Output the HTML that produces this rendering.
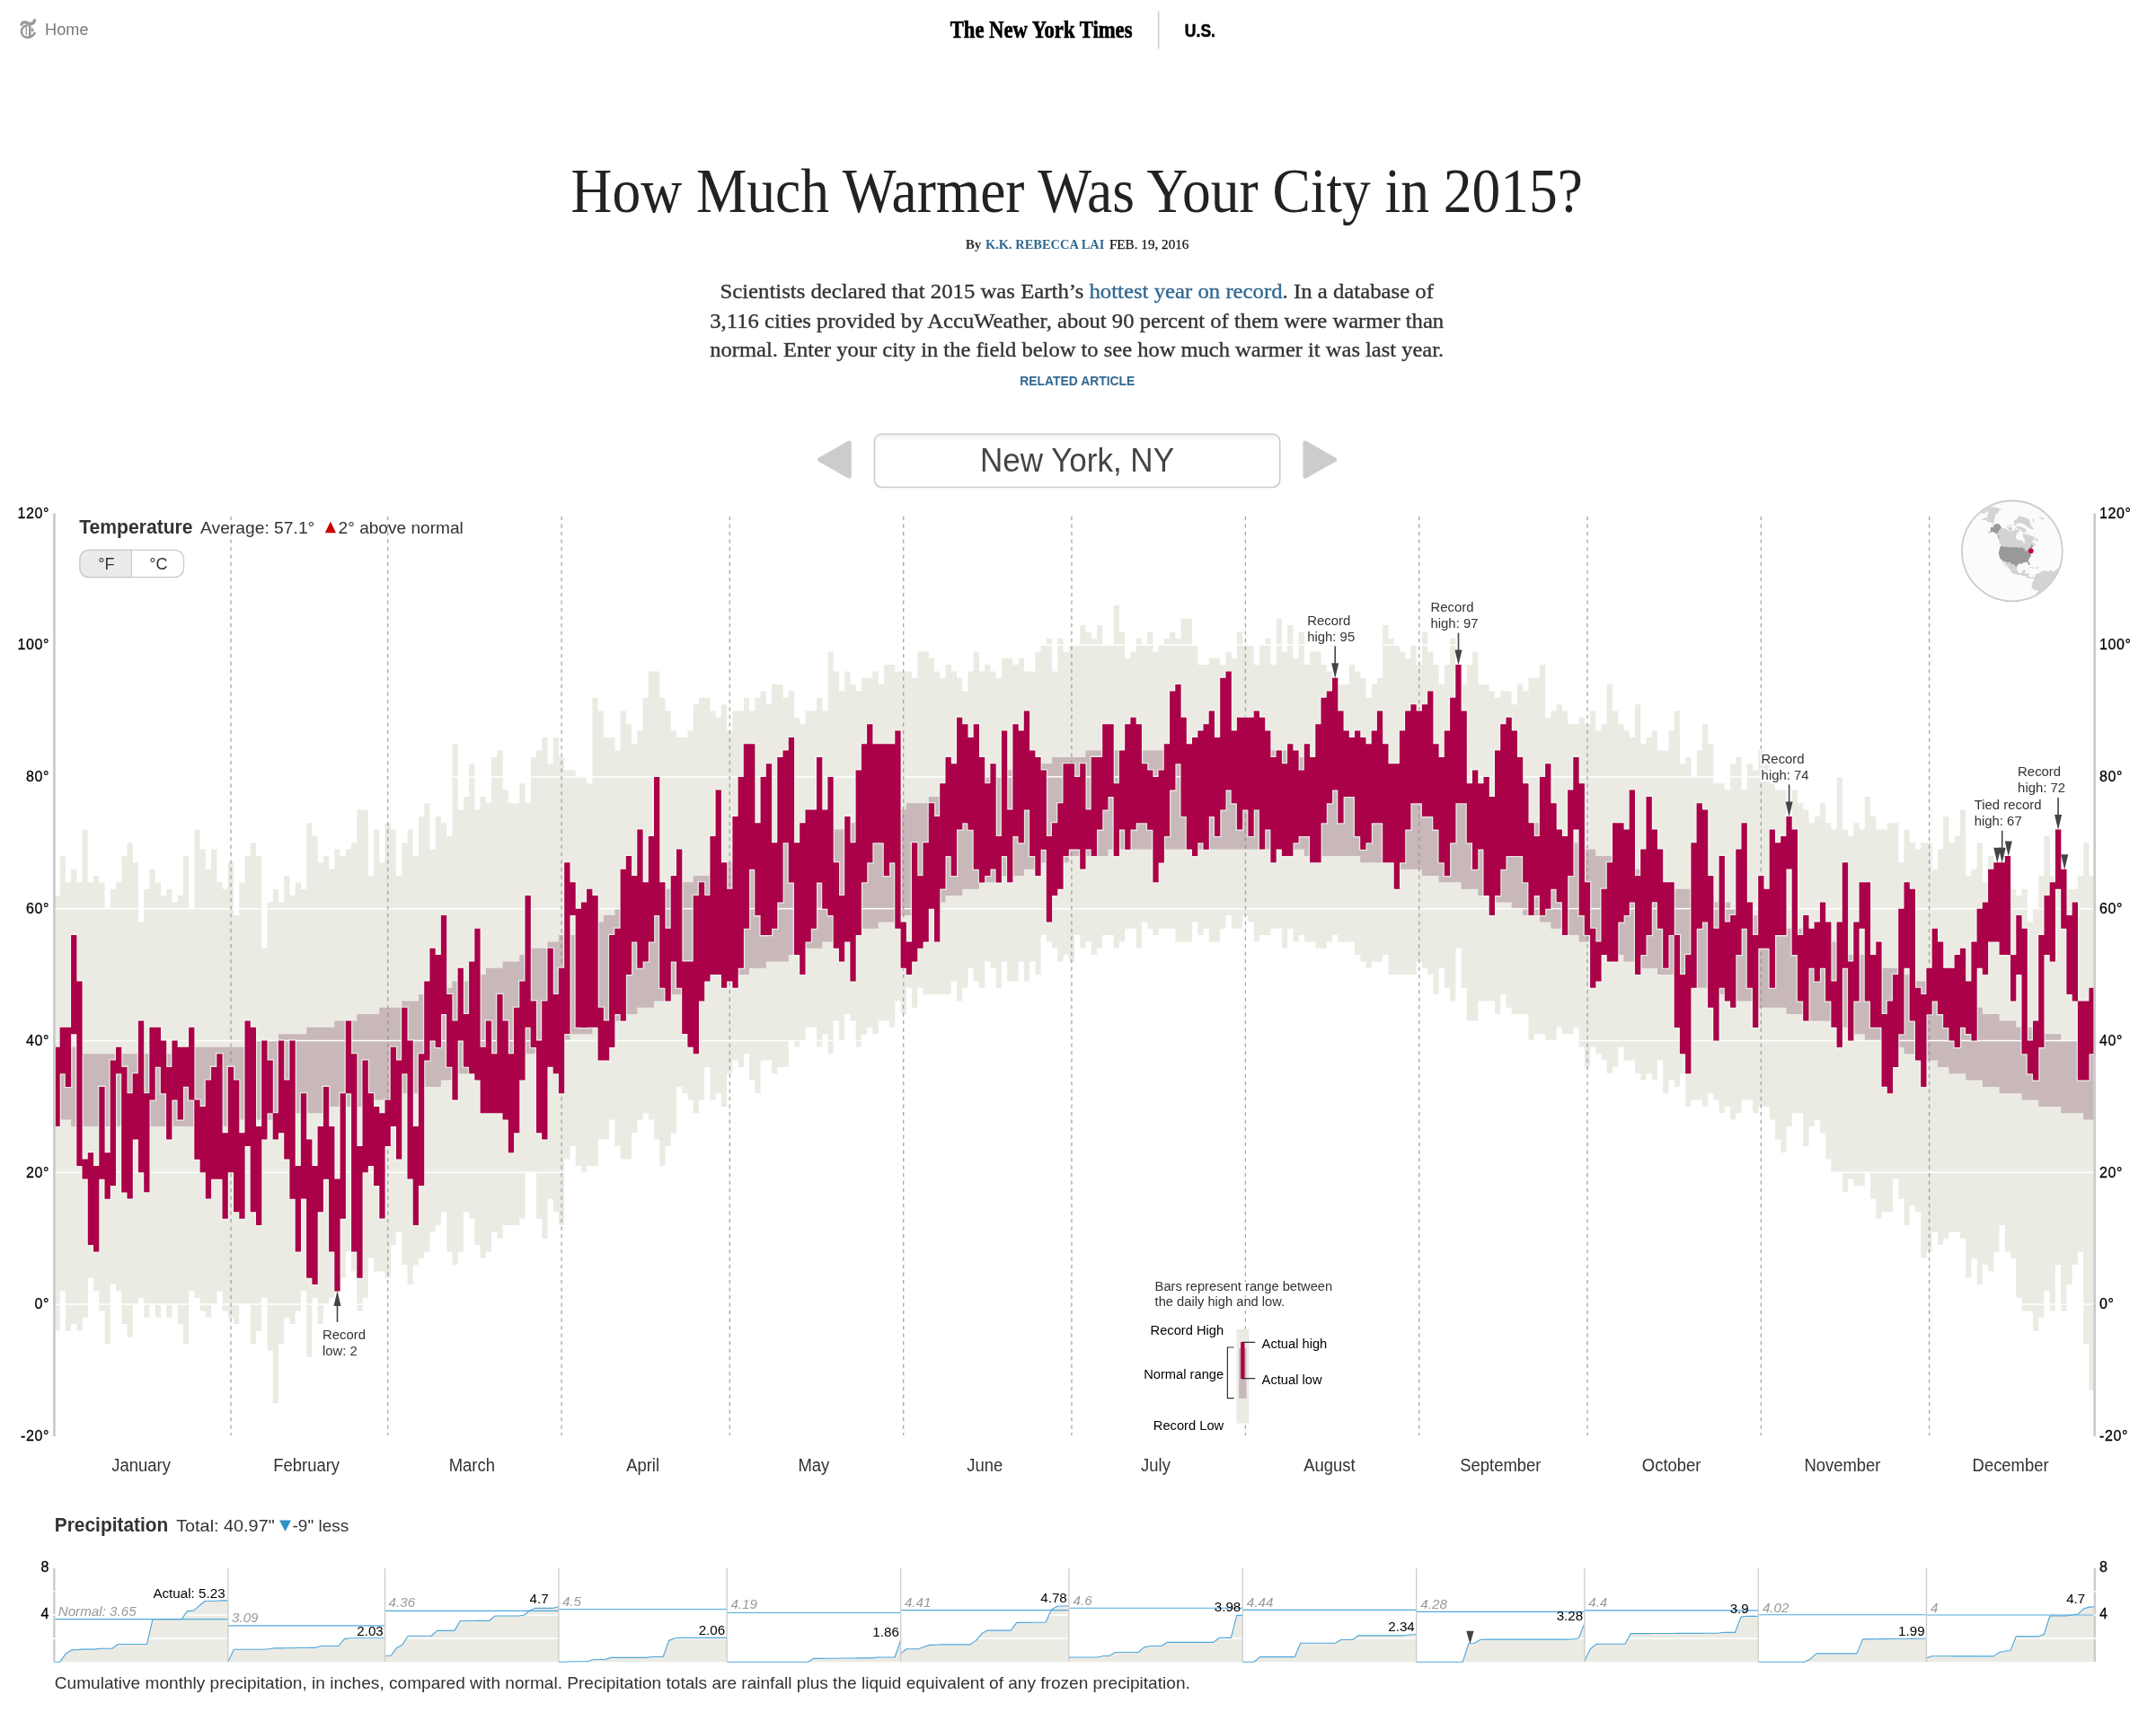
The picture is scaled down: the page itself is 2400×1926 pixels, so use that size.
<!DOCTYPE html>
<html><head><meta charset="utf-8"><title>How Much Warmer Was Your City in 2015?</title>
<style>
html,body{margin:0;padding:0;background:#fff;}
body{width:2400px;height:1926px;overflow:hidden;font-family:"Liberation Sans",sans-serif;}
svg{display:block;position:absolute;left:0;top:0;opacity:0.9999;will-change:opacity;}
text{font-family:"Liberation Sans",sans-serif;}
.se{font-family:"Liberation Serif",serif;}
.yl{font-size:16px;fill:#000;letter-spacing:0.6px;stroke:#000;stroke-width:0.3px;}
.lg2{fill:#333 !important;}
.mo{font-size:19.5px;fill:#333;}
.an{font-size:14.9px;fill:#333;stroke:#fff;stroke-width:4.5px;stroke-linejoin:round;paint-order:stroke;stroke-opacity:0.92;}
.lg{font-size:14.7px;fill:#000;stroke:#fff;stroke-width:4px;stroke-linejoin:round;paint-order:stroke;stroke-opacity:0.9;}
.pn{font-size:15.2px;fill:#999;font-style:italic;}
.pa{font-size:15.2px;fill:#000;}
</style></head><body>
<svg width="2400" height="1926" viewBox="0 0 2400 1926">
<!-- header -->
<g fill="none" stroke="#999" stroke-linecap="round">
<path d="M23.8 27.2C26 22.5 29.5 25.5 33 26.2C36 26.8 38 25.5 38.6 22.6" stroke-width="3.2"/>
<path d="M30.5 28.3C25.5 29 23.6 32.5 24 36C24.5 40 28 42 31.5 41.6C35 41.2 37.5 39.5 38.6 36.8" stroke-width="2.6"/>
<path d="M33.3 27V40.5" stroke-width="2.6"/>
<path d="M29.3 30.5V38.5" stroke-width="1.4"/>
<path d="M36.2 31.6L37.4 33.4L36.2 35.2L35 33.4Z" stroke-width="1" fill="#999"/>
</g>
<text x="50.1" y="39" font-size="18.3" fill="#777" textLength="48.4" lengthAdjust="spacingAndGlyphs">Home</text>
<text x="1057.7" y="42" class="se" font-size="28" font-weight="bold" fill="#000" stroke="#000" stroke-width="0.7" textLength="202.8" lengthAdjust="spacingAndGlyphs">The New York Times</text>
<rect x="1288.9" y="12.6" width="1.5" height="41.8" fill="#ccc"/>
<text x="1318.8" y="41" font-size="19.6" font-weight="bold" fill="#000" stroke="#000" stroke-width="0.5" textLength="34.2" lengthAdjust="spacingAndGlyphs">U.S.</text>
<text x="635.6" y="236" class="se" font-size="70.5" fill="#222" textLength="1126.4" lengthAdjust="spacingAndGlyphs">How Much Warmer Was Your City in 2015?</text>
<text x="1074.7" y="277" class="se" font-size="15.6" font-weight="bold" fill="#333" textLength="17.8" lengthAdjust="spacingAndGlyphs">By</text>
<text x="1096.9" y="277" class="se" font-size="15.6" font-weight="bold" fill="#326891" textLength="132.5" lengthAdjust="spacingAndGlyphs">K.K. REBECCA LAI</text>
<text x="1234.9" y="277" class="se" font-size="15.6" fill="#111" stroke="#111" stroke-width="0.25" textLength="88.5" lengthAdjust="spacingAndGlyphs">FEB. 19, 2016</text>
<text x="801.4" y="332.2" class="se" font-size="24" fill="#333" stroke="#333" stroke-width="0.35" textLength="794.6" lengthAdjust="spacingAndGlyphs">Scientists declared that 2015 was Earth’s <tspan fill="#326891" stroke="#326891">hottest year on record</tspan>. In a database of</text>
<text x="790.3" y="364.5" class="se" font-size="24" fill="#333" stroke="#333" stroke-width="0.35" textLength="816.9" lengthAdjust="spacingAndGlyphs">3,116 cities provided by AccuWeather, about 90 percent of them were warmer than</text>
<text x="790.3" y="396.8" class="se" font-size="24" fill="#333" stroke="#333" stroke-width="0.35" textLength="816.9" lengthAdjust="spacingAndGlyphs">normal. Enter your city in the field below to see how much warmer it was last year.</text>
<text x="1135.3" y="428.5" font-size="14.5" font-weight="bold" fill="#326891" textLength="128" lengthAdjust="spacingAndGlyphs">RELATED ARTICLE</text>
<!-- city input -->
<defs><linearGradient id="ig" x1="0" y1="0" x2="0" y2="1"><stop offset="0" stop-color="#eee"/><stop offset="0.12" stop-color="#fff"/><stop offset="1" stop-color="#fff"/></linearGradient></defs>
<rect x="973.5" y="483.2" width="451.2" height="59.3" rx="8" ry="8" fill="url(#ig)" stroke="#ccc" stroke-width="1.6"/>
<text x="1091" y="524.7" font-size="36" fill="#444" textLength="216" lengthAdjust="spacingAndGlyphs">New York, NY</text>
<path d="M945.5 492.8V530.6L912.3 511.7Z" fill="#ccc" stroke="#ccc" stroke-width="4.5" stroke-linejoin="round"/>
<path d="M1452.7 492.8V530.6L1485.9 511.7Z" fill="#ccc" stroke="#ccc" stroke-width="4.5" stroke-linejoin="round"/>
<path d="M60.4 997 L66.6 997 L66.6 953 L72.9 953 L72.9 982.3 L79.1 982.3 L79.1 967.7 L85.4 967.7 L85.4 982.3 L91.6 982.3 L91.6 923.6 L97.8 923.6 L97.8 982.3 L104.1 982.3 L104.1 975 L110.3 975 L110.3 982.3 L116.6 982.3 L116.6 1011.7 L122.8 1011.7 L122.8 989.7 L129 989.7 L129 982.3 L135.3 982.3 L135.3 953 L141.5 953 L141.5 938.3 L147.8 938.3 L147.8 960.3 L154 960.3 L154 1026.4 L160.2 1026.4 L160.2 989.7 L166.5 989.7 L166.5 967.7 L172.7 967.7 L172.7 982.3 L179 982.3 L179 997 L185.2 997 L185.2 989.7 L191.4 989.7 L191.4 1004.4 L197.7 1004.4 L197.7 997 L203.9 997 L203.9 953 L210.2 953 L210.2 1011.7 L216.4 1011.7 L216.4 923.6 L222.6 923.6 L222.6 945.6 L228.9 945.6 L228.9 967.7 L235.1 967.7 L235.1 945.6 L241.4 945.6 L241.4 982.3 L247.6 982.3 L247.6 989.7 L253.8 989.7 L253.8 960.3 L260.1 960.3 L260.1 1019 L266.3 1019 L266.3 982.3 L272.6 982.3 L272.6 953 L278.8 953 L278.8 938.3 L285 938.3 L285 953 L291.3 953 L291.3 1055.7 L297.5 1055.7 L297.5 1004.4 L303.8 1004.4 L303.8 989.7 L310 989.7 L310 1004.4 L316.2 1004.4 L316.2 975 L322.5 975 L322.5 997 L328.7 997 L328.7 982.3 L335 982.3 L335 989.7 L341.2 989.7 L341.2 916.3 L347.4 916.3 L347.4 931 L353.7 931 L353.7 960.3 L359.9 960.3 L359.9 953 L366.2 953 L366.2 967.7 L372.4 967.7 L372.4 945.6 L378.6 945.6 L378.6 953 L384.9 953 L384.9 945.6 L391.1 945.6 L391.1 938.3 L397.3 938.3 L397.3 901.6 L403.6 901.6 L403.6 901.6 L409.8 901.6 L409.8 975 L416.1 975 L416.1 923.6 L422.3 923.6 L422.3 960.3 L428.5 960.3 L428.5 916.3 L434.8 916.3 L434.8 923.6 L441 923.6 L441 975 L447.3 975 L447.3 938.3 L453.5 938.3 L453.5 923.6 L459.7 923.6 L459.7 953 L466 953 L466 908.9 L472.2 908.9 L472.2 894.3 L478.5 894.3 L478.5 945.6 L484.7 945.6 L484.7 908.9 L490.9 908.9 L490.9 916.3 L497.2 916.3 L497.2 931 L503.4 931 L503.4 828.2 L509.7 828.2 L509.7 901.6 L515.9 901.6 L515.9 886.9 L522.1 886.9 L522.1 850.2 L528.4 850.2 L528.4 901.6 L534.6 901.6 L534.6 886.9 L540.9 886.9 L540.9 894.3 L547.1 894.3 L547.1 842.9 L553.3 842.9 L553.3 835.5 L559.6 835.5 L559.6 879.6 L565.8 879.6 L565.8 894.3 L572.1 894.3 L572.1 894.3 L578.3 894.3 L578.3 872.2 L584.5 872.2 L584.5 894.3 L590.8 894.3 L590.8 842.9 L597 842.9 L597 835.5 L603.3 835.5 L603.3 820.9 L609.5 820.9 L609.5 850.2 L615.7 850.2 L615.7 820.9 L622 820.9 L622 842.9 L628.2 842.9 L628.2 857.6 L634.5 857.6 L634.5 857.6 L640.7 857.6 L640.7 864.9 L646.9 864.9 L646.9 864.9 L653.2 864.9 L653.2 872.2 L659.4 872.2 L659.4 776.8 L665.7 776.8 L665.7 791.5 L671.9 791.5 L671.9 820.9 L678.1 820.9 L678.1 820.9 L684.4 820.9 L684.4 835.5 L690.6 835.5 L690.6 791.5 L696.9 791.5 L696.9 806.2 L703.1 806.2 L703.1 828.2 L709.3 828.2 L709.3 813.5 L715.6 813.5 L715.6 776.8 L721.8 776.8 L721.8 747.5 L728.1 747.5 L728.1 747.5 L734.3 747.5 L734.3 776.8 L740.5 776.8 L740.5 791.5 L746.8 791.5 L746.8 813.5 L753 813.5 L753 820.9 L759.3 820.9 L759.3 820.9 L765.5 820.9 L765.5 813.5 L771.7 813.5 L771.7 784.2 L778 784.2 L778 776.8 L784.2 776.8 L784.2 776.8 L790.5 776.8 L790.5 791.5 L796.7 791.5 L796.7 798.8 L802.9 798.8 L802.9 784.2 L809.2 784.2 L809.2 813.5 L815.4 813.5 L815.4 791.5 L821.7 791.5 L821.7 791.5 L827.9 791.5 L827.9 776.8 L834.1 776.8 L834.1 791.5 L840.4 791.5 L840.4 776.8 L846.6 776.8 L846.6 769.5 L852.9 769.5 L852.9 784.2 L859.1 784.2 L859.1 762.1 L865.3 762.1 L865.3 762.1 L871.6 762.1 L871.6 776.8 L877.8 776.8 L877.8 769.5 L884.1 769.5 L884.1 798.8 L890.3 798.8 L890.3 806.2 L896.5 806.2 L896.5 791.5 L902.8 791.5 L902.8 791.5 L909 791.5 L909 776.8 L915.3 776.8 L915.3 791.5 L921.5 791.5 L921.5 725.4 L927.7 725.4 L927.7 747.5 L934 747.5 L934 769.5 L940.2 769.5 L940.2 747.5 L946.5 747.5 L946.5 762.1 L952.7 762.1 L952.7 769.5 L958.9 769.5 L958.9 754.8 L965.2 754.8 L965.2 754.8 L971.4 754.8 L971.4 747.5 L977.7 747.5 L977.7 762.1 L983.9 762.1 L983.9 740.1 L990.1 740.1 L990.1 740.1 L996.4 740.1 L996.4 747.5 L1002.6 747.5 L1002.6 747.5 L1008.8 747.5 L1008.8 747.5 L1015.1 747.5 L1015.1 754.8 L1021.3 754.8 L1021.3 725.4 L1027.6 725.4 L1027.6 725.4 L1033.8 725.4 L1033.8 732.8 L1040 732.8 L1040 747.5 L1046.3 747.5 L1046.3 754.8 L1052.5 754.8 L1052.5 740.1 L1058.8 740.1 L1058.8 747.5 L1065 747.5 L1065 754.8 L1071.2 754.8 L1071.2 769.5 L1077.5 769.5 L1077.5 747.5 L1083.7 747.5 L1083.7 725.4 L1090 725.4 L1090 747.5 L1096.2 747.5 L1096.2 740.1 L1102.4 740.1 L1102.4 747.5 L1108.7 747.5 L1108.7 754.8 L1114.9 754.8 L1114.9 732.8 L1121.2 732.8 L1121.2 732.8 L1127.4 732.8 L1127.4 740.1 L1133.6 740.1 L1133.6 732.8 L1139.9 732.8 L1139.9 747.5 L1146.1 747.5 L1146.1 747.5 L1152.4 747.5 L1152.4 725.4 L1158.6 725.4 L1158.6 718.1 L1164.8 718.1 L1164.8 710.8 L1171.1 710.8 L1171.1 747.5 L1177.3 747.5 L1177.3 710.8 L1183.6 710.8 L1183.6 725.4 L1189.8 725.4 L1189.8 718.1 L1196 718.1 L1196 718.1 L1202.3 718.1 L1202.3 696.1 L1208.5 696.1 L1208.5 703.4 L1214.8 703.4 L1214.8 710.8 L1221 710.8 L1221 696.1 L1227.2 696.1 L1227.2 718.1 L1233.5 718.1 L1233.5 718.1 L1239.7 718.1 L1239.7 674.1 L1246 674.1 L1246 703.4 L1252.2 703.4 L1252.2 732.8 L1258.4 732.8 L1258.4 725.4 L1264.7 725.4 L1264.7 710.8 L1270.9 710.8 L1270.9 718.1 L1277.2 718.1 L1277.2 703.4 L1283.4 703.4 L1283.4 725.4 L1289.6 725.4 L1289.6 718.1 L1295.9 718.1 L1295.9 710.8 L1302.1 710.8 L1302.1 703.4 L1308.4 703.4 L1308.4 710.8 L1314.6 710.8 L1314.6 688.7 L1320.8 688.7 L1320.8 688.7 L1327.1 688.7 L1327.1 718.1 L1333.3 718.1 L1333.3 740.1 L1339.6 740.1 L1339.6 740.1 L1345.8 740.1 L1345.8 732.8 L1352 732.8 L1352 732.8 L1358.3 732.8 L1358.3 740.1 L1364.5 740.1 L1364.5 725.4 L1370.8 725.4 L1370.8 732.8 L1377 732.8 L1377 703.4 L1383.2 703.4 L1383.2 718.1 L1389.5 718.1 L1389.5 718.1 L1395.7 718.1 L1395.7 740.1 L1402 740.1 L1402 718.1 L1408.2 718.1 L1408.2 710.8 L1414.4 710.8 L1414.4 740.1 L1420.7 740.1 L1420.7 688.7 L1426.9 688.7 L1426.9 725.4 L1433.2 725.4 L1433.2 696.1 L1439.4 696.1 L1439.4 732.8 L1445.6 732.8 L1445.6 703.4 L1451.9 703.4 L1451.9 740.1 L1458.1 740.1 L1458.1 725.4 L1464.4 725.4 L1464.4 725.4 L1470.6 725.4 L1470.6 740.1 L1476.8 740.1 L1476.8 747.5 L1483.1 747.5 L1483.1 754.8 L1489.3 754.8 L1489.3 762.1 L1495.6 762.1 L1495.6 762.1 L1501.8 762.1 L1501.8 740.1 L1508 740.1 L1508 747.5 L1514.3 747.5 L1514.3 754.8 L1520.5 754.8 L1520.5 776.8 L1526.8 776.8 L1526.8 762.1 L1533 762.1 L1533 754.8 L1539.2 754.8 L1539.2 696.1 L1545.5 696.1 L1545.5 710.8 L1551.7 710.8 L1551.7 718.1 L1558 718.1 L1558 725.4 L1564.2 725.4 L1564.2 732.8 L1570.4 732.8 L1570.4 718.1 L1576.7 718.1 L1576.7 740.1 L1582.9 740.1 L1582.9 703.4 L1589.2 703.4 L1589.2 725.4 L1595.4 725.4 L1595.4 740.1 L1601.6 740.1 L1601.6 762.1 L1607.9 762.1 L1607.9 740.1 L1614.1 740.1 L1614.1 710.8 L1620.4 710.8 L1620.4 740.1 L1626.6 740.1 L1626.6 762.1 L1632.8 762.1 L1632.8 740.1 L1639.1 740.1 L1639.1 725.4 L1645.3 725.4 L1645.3 762.1 L1651.5 762.1 L1651.5 762.1 L1657.8 762.1 L1657.8 769.5 L1664 769.5 L1664 776.8 L1670.3 776.8 L1670.3 769.5 L1676.5 769.5 L1676.5 769.5 L1682.7 769.5 L1682.7 784.2 L1689 784.2 L1689 762.1 L1695.2 762.1 L1695.2 769.5 L1701.5 769.5 L1701.5 754.8 L1707.7 754.8 L1707.7 754.8 L1713.9 754.8 L1713.9 740.1 L1720.2 740.1 L1720.2 798.8 L1726.4 798.8 L1726.4 791.5 L1732.7 791.5 L1732.7 784.2 L1738.9 784.2 L1738.9 791.5 L1745.1 791.5 L1745.1 806.2 L1751.4 806.2 L1751.4 806.2 L1757.6 806.2 L1757.6 798.8 L1763.9 798.8 L1763.9 806.2 L1770.1 806.2 L1770.1 791.5 L1776.3 791.5 L1776.3 813.5 L1782.6 813.5 L1782.6 806.2 L1788.8 806.2 L1788.8 762.1 L1795.1 762.1 L1795.1 791.5 L1801.3 791.5 L1801.3 806.2 L1807.5 806.2 L1807.5 813.5 L1813.8 813.5 L1813.8 820.9 L1820 820.9 L1820 784.2 L1826.3 784.2 L1826.3 828.2 L1832.5 828.2 L1832.5 820.9 L1838.7 820.9 L1838.7 813.5 L1845 813.5 L1845 835.5 L1851.2 835.5 L1851.2 835.5 L1857.5 835.5 L1857.5 813.5 L1863.7 813.5 L1863.7 791.5 L1869.9 791.5 L1869.9 850.2 L1876.2 850.2 L1876.2 842.9 L1882.4 842.9 L1882.4 864.9 L1888.7 864.9 L1888.7 835.5 L1894.9 835.5 L1894.9 806.2 L1901.1 806.2 L1901.1 828.2 L1907.4 828.2 L1907.4 872.2 L1913.6 872.2 L1913.6 872.2 L1919.9 872.2 L1919.9 879.6 L1926.1 879.6 L1926.1 850.2 L1932.3 850.2 L1932.3 842.9 L1938.6 842.9 L1938.6 879.6 L1944.8 879.6 L1944.8 850.2 L1951.1 850.2 L1951.1 857.6 L1957.3 857.6 L1957.3 835.5 L1963.5 835.5 L1963.5 842.9 L1969.8 842.9 L1969.8 872.2 L1976 872.2 L1976 879.6 L1982.3 879.6 L1982.3 879.6 L1988.5 879.6 L1988.5 908.9 L1994.7 908.9 L1994.7 879.6 L2001 879.6 L2001 894.3 L2007.2 894.3 L2007.2 901.6 L2013.5 901.6 L2013.5 916.3 L2019.7 916.3 L2019.7 908.9 L2025.9 908.9 L2025.9 894.3 L2032.2 894.3 L2032.2 916.3 L2038.4 916.3 L2038.4 923.6 L2044.7 923.6 L2044.7 864.9 L2050.9 864.9 L2050.9 923.6 L2057.1 923.6 L2057.1 931 L2063.4 931 L2063.4 916.3 L2069.6 916.3 L2069.6 923.6 L2075.9 923.6 L2075.9 886.9 L2082.1 886.9 L2082.1 908.9 L2088.3 908.9 L2088.3 923.6 L2094.6 923.6 L2094.6 923.6 L2100.8 923.6 L2100.8 916.3 L2107.1 916.3 L2107.1 916.3 L2113.3 916.3 L2113.3 960.3 L2119.5 960.3 L2119.5 923.6 L2125.8 923.6 L2125.8 938.3 L2132 938.3 L2132 945.6 L2138.3 945.6 L2138.3 938.3 L2144.5 938.3 L2144.5 938.3 L2150.7 938.3 L2150.7 967.7 L2157 967.7 L2157 945.6 L2163.2 945.6 L2163.2 908.9 L2169.5 908.9 L2169.5 938.3 L2175.7 938.3 L2175.7 931 L2181.9 931 L2181.9 901.6 L2188.2 901.6 L2188.2 975 L2194.4 975 L2194.4 967.7 L2200.7 967.7 L2200.7 938.3 L2206.9 938.3 L2206.9 982.3 L2213.1 982.3 L2213.1 953 L2219.4 953 L2219.4 960.3 L2225.6 960.3 L2225.6 960.3 L2231.9 960.3 L2231.9 953 L2238.1 953 L2238.1 989.7 L2244.3 989.7 L2244.3 997 L2250.6 997 L2250.6 989.7 L2256.8 989.7 L2256.8 1026.4 L2263 1026.4 L2263 1011.7 L2269.3 1011.7 L2269.3 975 L2275.5 975 L2275.5 931 L2281.8 931 L2281.8 975 L2288 975 L2288 923.6 L2294.2 923.6 L2294.2 967.7 L2300.5 967.7 L2300.5 989.7 L2306.7 989.7 L2306.7 989.7 L2313 989.7 L2313 975 L2319.2 975 L2319.2 938.3 L2325.4 938.3 L2325.4 975 L2331.7 975 L2331.7 989.7 L2331.7 989.7 L2331.7 1503.5 L2331.7 1503.5 L2331.7 1547.5 L2325.4 1547.5 L2325.4 1496.1 L2319.2 1496.1 L2319.2 1393.4 L2313 1393.4 L2313 1408.1 L2306.7 1408.1 L2306.7 1430.1 L2300.5 1430.1 L2300.5 1459.4 L2294.2 1459.4 L2294.2 1408.1 L2288 1408.1 L2288 1459.4 L2281.8 1459.4 L2281.8 1437.4 L2275.5 1437.4 L2275.5 1466.8 L2269.3 1466.8 L2269.3 1481.5 L2263 1481.5 L2263 1459.4 L2256.8 1459.4 L2256.8 1459.4 L2250.6 1459.4 L2250.6 1444.8 L2244.3 1444.8 L2244.3 1400.7 L2238.1 1400.7 L2238.1 1393.4 L2231.9 1393.4 L2231.9 1364 L2225.6 1364 L2225.6 1393.4 L2219.4 1393.4 L2219.4 1415.4 L2213.1 1415.4 L2213.1 1408.1 L2206.9 1408.1 L2206.9 1430.1 L2200.7 1430.1 L2200.7 1400.7 L2194.4 1400.7 L2194.4 1422.7 L2188.2 1422.7 L2188.2 1378.7 L2181.9 1378.7 L2181.9 1371.4 L2175.7 1371.4 L2175.7 1371.4 L2169.5 1371.4 L2169.5 1378.7 L2163.2 1378.7 L2163.2 1386 L2157 1386 L2157 1371.4 L2150.7 1371.4 L2150.7 1393.4 L2144.5 1393.4 L2144.5 1400.7 L2138.3 1400.7 L2138.3 1349.3 L2132 1349.3 L2132 1342 L2125.8 1342 L2125.8 1364 L2119.5 1364 L2119.5 1334.7 L2113.3 1334.7 L2113.3 1312.6 L2107.1 1312.6 L2107.1 1349.3 L2100.8 1349.3 L2100.8 1349.3 L2094.6 1349.3 L2094.6 1356.7 L2088.3 1356.7 L2088.3 1334.7 L2082.1 1334.7 L2082.1 1305.3 L2075.9 1305.3 L2075.9 1320 L2069.6 1320 L2069.6 1320 L2063.4 1320 L2063.4 1312.6 L2057.1 1312.6 L2057.1 1327.3 L2050.9 1327.3 L2050.9 1305.3 L2044.7 1305.3 L2044.7 1305.3 L2038.4 1305.3 L2038.4 1290.6 L2032.2 1290.6 L2032.2 1261.3 L2025.9 1261.3 L2025.9 1246.6 L2019.7 1246.6 L2019.7 1253.9 L2013.5 1253.9 L2013.5 1275.9 L2007.2 1275.9 L2007.2 1239.2 L2001 1239.2 L2001 1239.2 L1994.7 1239.2 L1994.7 1253.9 L1988.5 1253.9 L1988.5 1283.3 L1982.3 1283.3 L1982.3 1268.6 L1976 1268.6 L1976 1246.6 L1969.8 1246.6 L1969.8 1231.9 L1963.5 1231.9 L1963.5 1231.9 L1957.3 1231.9 L1957.3 1239.2 L1951.1 1239.2 L1951.1 1224.6 L1944.8 1224.6 L1944.8 1224.6 L1938.6 1224.6 L1938.6 1239.2 L1932.3 1239.2 L1932.3 1246.6 L1926.1 1246.6 L1926.1 1231.9 L1919.9 1231.9 L1919.9 1239.2 L1913.6 1239.2 L1913.6 1224.6 L1907.4 1224.6 L1907.4 1217.2 L1901.1 1217.2 L1901.1 1231.9 L1894.9 1231.9 L1894.9 1224.6 L1888.7 1224.6 L1888.7 1224.6 L1882.4 1224.6 L1882.4 1231.9 L1876.2 1231.9 L1876.2 1195.2 L1869.9 1195.2 L1869.9 1209.9 L1863.7 1209.9 L1863.7 1202.5 L1857.5 1202.5 L1857.5 1217.2 L1851.2 1217.2 L1851.2 1180.5 L1845 1180.5 L1845 1202.5 L1838.7 1202.5 L1838.7 1195.2 L1832.5 1195.2 L1832.5 1202.5 L1826.3 1202.5 L1826.3 1195.2 L1820 1195.2 L1820 1180.5 L1813.8 1180.5 L1813.8 1180.5 L1807.5 1180.5 L1807.5 1165.8 L1801.3 1165.8 L1801.3 1187.9 L1795.1 1187.9 L1795.1 1195.2 L1788.8 1195.2 L1788.8 1180.5 L1782.6 1180.5 L1782.6 1173.2 L1776.3 1173.2 L1776.3 1165.8 L1770.1 1165.8 L1770.1 1187.9 L1763.9 1187.9 L1763.9 1165.8 L1757.6 1165.8 L1757.6 1143.8 L1751.4 1143.8 L1751.4 1151.2 L1745.1 1151.2 L1745.1 1151.2 L1738.9 1151.2 L1738.9 1143.8 L1732.7 1143.8 L1732.7 1158.5 L1726.4 1158.5 L1726.4 1158.5 L1720.2 1158.5 L1720.2 1151.2 L1713.9 1151.2 L1713.9 1151.2 L1707.7 1151.2 L1707.7 1158.5 L1701.5 1158.5 L1701.5 1129.1 L1695.2 1129.1 L1695.2 1129.1 L1689 1129.1 L1689 1129.1 L1682.7 1129.1 L1682.7 1121.8 L1676.5 1121.8 L1676.5 1107.1 L1670.3 1107.1 L1670.3 1129.1 L1664 1129.1 L1664 1114.5 L1657.8 1114.5 L1657.8 1114.5 L1651.5 1114.5 L1651.5 1114.5 L1645.3 1114.5 L1645.3 1136.5 L1639.1 1136.5 L1639.1 1136.5 L1632.8 1136.5 L1632.8 1099.8 L1626.6 1099.8 L1626.6 1055.7 L1620.4 1055.7 L1620.4 1114.5 L1614.1 1114.5 L1614.1 1099.8 L1607.9 1099.8 L1607.9 1077.8 L1601.6 1077.8 L1601.6 1107.1 L1595.4 1107.1 L1595.4 1085.1 L1589.2 1085.1 L1589.2 1077.8 L1582.9 1077.8 L1582.9 1070.4 L1576.7 1070.4 L1576.7 1085.1 L1570.4 1085.1 L1570.4 1085.1 L1564.2 1085.1 L1564.2 1085.1 L1558 1085.1 L1558 1085.1 L1551.7 1085.1 L1551.7 1085.1 L1545.5 1085.1 L1545.5 1063.1 L1539.2 1063.1 L1539.2 1070.4 L1533 1070.4 L1533 1070.4 L1526.8 1070.4 L1526.8 1077.8 L1520.5 1077.8 L1520.5 1070.4 L1514.3 1070.4 L1514.3 1063.1 L1508 1063.1 L1508 1048.4 L1501.8 1048.4 L1501.8 1048.4 L1495.6 1048.4 L1495.6 1048.4 L1489.3 1048.4 L1489.3 1041.1 L1483.1 1041.1 L1483.1 1048.4 L1476.8 1048.4 L1476.8 1055.7 L1470.6 1055.7 L1470.6 1055.7 L1464.4 1055.7 L1464.4 1048.4 L1458.1 1048.4 L1458.1 1048.4 L1451.9 1048.4 L1451.9 1041.1 L1445.6 1041.1 L1445.6 1048.4 L1439.4 1048.4 L1439.4 1033.7 L1433.2 1033.7 L1433.2 1055.7 L1426.9 1055.7 L1426.9 1033.7 L1420.7 1033.7 L1420.7 1033.7 L1414.4 1033.7 L1414.4 1041.1 L1408.2 1041.1 L1408.2 1041.1 L1402 1041.1 L1402 1048.4 L1395.7 1048.4 L1395.7 1026.4 L1389.5 1026.4 L1389.5 1019 L1383.2 1019 L1383.2 1033.7 L1377 1033.7 L1377 1033.7 L1370.8 1033.7 L1370.8 1019 L1364.5 1019 L1364.5 1033.7 L1358.3 1033.7 L1358.3 1048.4 L1352 1048.4 L1352 1048.4 L1345.8 1048.4 L1345.8 1033.7 L1339.6 1033.7 L1339.6 1041.1 L1333.3 1041.1 L1333.3 1026.4 L1327.1 1026.4 L1327.1 1048.4 L1320.8 1048.4 L1320.8 1048.4 L1314.6 1048.4 L1314.6 1048.4 L1308.4 1048.4 L1308.4 1033.7 L1302.1 1033.7 L1302.1 1033.7 L1295.9 1033.7 L1295.9 1033.7 L1289.6 1033.7 L1289.6 1041.1 L1283.4 1041.1 L1283.4 1033.7 L1277.2 1033.7 L1277.2 1026.4 L1270.9 1026.4 L1270.9 1055.7 L1264.7 1055.7 L1264.7 1033.7 L1258.4 1033.7 L1258.4 1033.7 L1252.2 1033.7 L1252.2 1048.4 L1246 1048.4 L1246 1055.7 L1239.7 1055.7 L1239.7 1041.1 L1233.5 1041.1 L1233.5 1041.1 L1227.2 1041.1 L1227.2 1055.7 L1221 1055.7 L1221 1063.1 L1214.8 1063.1 L1214.8 1048.4 L1208.5 1048.4 L1208.5 1055.7 L1202.3 1055.7 L1202.3 1041.1 L1196 1041.1 L1196 1070.4 L1189.8 1070.4 L1189.8 1063.1 L1183.6 1063.1 L1183.6 1070.4 L1177.3 1070.4 L1177.3 1055.7 L1171.1 1055.7 L1171.1 1048.4 L1164.8 1048.4 L1164.8 1041.1 L1158.6 1041.1 L1158.6 1085.1 L1152.4 1085.1 L1152.4 1070.4 L1146.1 1070.4 L1146.1 1092.4 L1139.9 1092.4 L1139.9 1070.4 L1133.6 1070.4 L1133.6 1092.4 L1127.4 1092.4 L1127.4 1092.4 L1121.2 1092.4 L1121.2 1070.4 L1114.9 1070.4 L1114.9 1099.8 L1108.7 1099.8 L1108.7 1077.8 L1102.4 1077.8 L1102.4 1070.4 L1096.2 1070.4 L1096.2 1099.8 L1090 1099.8 L1090 1092.4 L1083.7 1092.4 L1083.7 1077.8 L1077.5 1077.8 L1077.5 1099.8 L1071.2 1099.8 L1071.2 1114.5 L1065 1114.5 L1065 1092.4 L1058.8 1092.4 L1058.8 1107.1 L1052.5 1107.1 L1052.5 1107.1 L1046.3 1107.1 L1046.3 1107.1 L1040 1107.1 L1040 1107.1 L1033.8 1107.1 L1033.8 1107.1 L1027.6 1107.1 L1027.6 1099.8 L1021.3 1099.8 L1021.3 1121.8 L1015.1 1121.8 L1015.1 1099.8 L1008.8 1099.8 L1008.8 1129.1 L1002.6 1129.1 L1002.6 1114.5 L996.4 1114.5 L996.4 1143.8 L990.1 1143.8 L990.1 1136.5 L983.9 1136.5 L983.9 1136.5 L977.7 1136.5 L977.7 1151.2 L971.4 1151.2 L971.4 1143.8 L965.2 1143.8 L965.2 1151.2 L958.9 1151.2 L958.9 1165.8 L952.7 1165.8 L952.7 1136.5 L946.5 1136.5 L946.5 1129.1 L940.2 1129.1 L940.2 1158.5 L934 1158.5 L934 1136.5 L927.7 1136.5 L927.7 1173.2 L921.5 1173.2 L921.5 1151.2 L915.3 1151.2 L915.3 1165.8 L909 1165.8 L909 1143.8 L902.8 1143.8 L902.8 1143.8 L896.5 1143.8 L896.5 1158.5 L890.3 1158.5 L890.3 1165.8 L884.1 1165.8 L884.1 1158.5 L877.8 1158.5 L877.8 1187.9 L871.6 1187.9 L871.6 1187.9 L865.3 1187.9 L865.3 1195.2 L859.1 1195.2 L859.1 1180.5 L852.9 1180.5 L852.9 1180.5 L846.6 1180.5 L846.6 1217.2 L840.4 1217.2 L840.4 1202.5 L834.1 1202.5 L834.1 1173.2 L827.9 1173.2 L827.9 1187.9 L821.7 1187.9 L821.7 1180.5 L815.4 1180.5 L815.4 1195.2 L809.2 1195.2 L809.2 1231.9 L802.9 1231.9 L802.9 1217.2 L796.7 1217.2 L796.7 1224.6 L790.5 1224.6 L790.5 1187.9 L784.2 1187.9 L784.2 1224.6 L778 1224.6 L778 1239.2 L771.7 1239.2 L771.7 1224.6 L765.5 1224.6 L765.5 1217.2 L759.3 1217.2 L759.3 1209.9 L753 1209.9 L753 1261.3 L746.8 1261.3 L746.8 1275.9 L740.5 1275.9 L740.5 1298 L734.3 1298 L734.3 1268.6 L728.1 1268.6 L728.1 1246.6 L721.8 1246.6 L721.8 1239.2 L715.6 1239.2 L715.6 1246.6 L709.3 1246.6 L709.3 1261.3 L703.1 1261.3 L703.1 1290.6 L696.9 1290.6 L696.9 1290.6 L690.6 1290.6 L690.6 1275.9 L684.4 1275.9 L684.4 1246.6 L678.1 1246.6 L678.1 1268.6 L671.9 1268.6 L671.9 1268.6 L665.7 1268.6 L665.7 1298 L659.4 1298 L659.4 1298 L653.2 1298 L653.2 1305.3 L646.9 1305.3 L646.9 1298 L640.7 1298 L640.7 1275.9 L634.5 1275.9 L634.5 1290.6 L628.2 1290.6 L628.2 1364 L622 1364 L622 1349.3 L615.7 1349.3 L615.7 1334.7 L609.5 1334.7 L609.5 1378.7 L603.3 1378.7 L603.3 1356.7 L597 1356.7 L597 1305.3 L590.8 1305.3 L590.8 1305.3 L584.5 1305.3 L584.5 1356.7 L578.3 1356.7 L578.3 1364 L572.1 1364 L572.1 1364 L565.8 1364 L565.8 1364 L559.6 1364 L559.6 1378.7 L553.3 1378.7 L553.3 1371.4 L547.1 1371.4 L547.1 1393.4 L540.9 1393.4 L540.9 1400.7 L534.6 1400.7 L534.6 1386 L528.4 1386 L528.4 1356.7 L522.1 1356.7 L522.1 1349.3 L515.9 1349.3 L515.9 1393.4 L509.7 1393.4 L509.7 1408.1 L503.4 1408.1 L503.4 1393.4 L497.2 1393.4 L497.2 1349.3 L490.9 1349.3 L490.9 1364 L484.7 1364 L484.7 1371.4 L478.5 1371.4 L478.5 1393.4 L472.2 1393.4 L472.2 1400.7 L466 1400.7 L466 1408.1 L459.7 1408.1 L459.7 1430.1 L453.5 1430.1 L453.5 1408.1 L447.3 1408.1 L447.3 1371.4 L441 1371.4 L441 1386 L434.8 1386 L434.8 1422.7 L428.5 1422.7 L428.5 1415.4 L422.3 1415.4 L422.3 1415.4 L416.1 1415.4 L416.1 1400.7 L409.8 1400.7 L409.8 1444.8 L403.6 1444.8 L403.6 1459.4 L397.3 1459.4 L397.3 1415.4 L391.1 1415.4 L391.1 1393.4 L384.9 1393.4 L384.9 1422.7 L378.6 1422.7 L378.6 1437.4 L372.4 1437.4 L372.4 1444.8 L366.2 1444.8 L366.2 1452.1 L359.9 1452.1 L359.9 1474.1 L353.7 1474.1 L353.7 1444.8 L347.4 1444.8 L347.4 1510.8 L341.2 1510.8 L341.2 1437.4 L335 1437.4 L335 1459.4 L328.7 1459.4 L328.7 1474.1 L322.5 1474.1 L322.5 1466.8 L316.2 1466.8 L316.2 1496.1 L310 1496.1 L310 1562.2 L303.8 1562.2 L303.8 1503.5 L297.5 1503.5 L297.5 1444.8 L291.3 1444.8 L291.3 1481.5 L285 1481.5 L285 1496.1 L278.8 1496.1 L278.8 1452.1 L272.6 1452.1 L272.6 1452.1 L266.3 1452.1 L266.3 1474.1 L260.1 1474.1 L260.1 1466.8 L253.8 1466.8 L253.8 1459.4 L247.6 1459.4 L247.6 1437.4 L241.4 1437.4 L241.4 1452.1 L235.1 1452.1 L235.1 1466.8 L228.9 1466.8 L228.9 1459.4 L222.6 1459.4 L222.6 1444.8 L216.4 1444.8 L216.4 1437.4 L210.2 1437.4 L210.2 1496.1 L203.9 1496.1 L203.9 1474.1 L197.7 1474.1 L197.7 1452.1 L191.4 1452.1 L191.4 1466.8 L185.2 1466.8 L185.2 1452.1 L179 1452.1 L179 1466.8 L172.7 1466.8 L172.7 1452.1 L166.5 1452.1 L166.5 1466.8 L160.2 1466.8 L160.2 1444.8 L154 1444.8 L154 1452.1 L147.8 1452.1 L147.8 1488.8 L141.5 1488.8 L141.5 1474.1 L135.3 1474.1 L135.3 1437.4 L129 1437.4 L129 1430.1 L122.8 1430.1 L122.8 1496.1 L116.6 1496.1 L116.6 1459.4 L110.3 1459.4 L110.3 1437.4 L104.1 1437.4 L104.1 1422.7 L97.8 1422.7 L97.8 1466.8 L91.6 1466.8 L91.6 1481.5 L85.4 1481.5 L85.4 1474.1 L79.1 1474.1 L79.1 1481.5 L72.9 1481.5 L72.9 1437.4 L66.6 1437.4 L66.6 1481.5 L60.4 1481.5Z" fill="#ebebe4"/>
<path d="M60.4 1165.8 L66.6 1165.8 L66.6 1165.8 L72.9 1165.8 L72.9 1165.8 L79.1 1165.8 L79.1 1165.8 L85.4 1165.8 L85.4 1165.8 L91.6 1165.8 L91.6 1173.2 L97.8 1173.2 L97.8 1173.2 L104.1 1173.2 L104.1 1173.2 L110.3 1173.2 L110.3 1173.2 L116.6 1173.2 L116.6 1173.2 L122.8 1173.2 L122.8 1173.2 L129 1173.2 L129 1173.2 L135.3 1173.2 L135.3 1173.2 L141.5 1173.2 L141.5 1173.2 L147.8 1173.2 L147.8 1173.2 L154 1173.2 L154 1173.2 L160.2 1173.2 L160.2 1173.2 L166.5 1173.2 L166.5 1173.2 L172.7 1173.2 L172.7 1173.2 L179 1173.2 L179 1173.2 L185.2 1173.2 L185.2 1173.2 L191.4 1173.2 L191.4 1165.8 L197.7 1165.8 L197.7 1165.8 L203.9 1165.8 L203.9 1165.8 L210.2 1165.8 L210.2 1165.8 L216.4 1165.8 L216.4 1165.8 L222.6 1165.8 L222.6 1165.8 L228.9 1165.8 L228.9 1165.8 L235.1 1165.8 L235.1 1165.8 L241.4 1165.8 L241.4 1165.8 L247.6 1165.8 L247.6 1165.8 L253.8 1165.8 L253.8 1165.8 L260.1 1165.8 L260.1 1165.8 L266.3 1165.8 L266.3 1165.8 L272.6 1165.8 L272.6 1165.8 L278.8 1165.8 L278.8 1165.8 L285 1165.8 L285 1158.5 L291.3 1158.5 L291.3 1158.5 L297.5 1158.5 L297.5 1158.5 L303.8 1158.5 L303.8 1158.5 L310 1158.5 L310 1151.2 L316.2 1151.2 L316.2 1151.2 L322.5 1151.2 L322.5 1151.2 L328.7 1151.2 L328.7 1151.2 L335 1151.2 L335 1151.2 L341.2 1151.2 L341.2 1143.8 L347.4 1143.8 L347.4 1143.8 L353.7 1143.8 L353.7 1143.8 L359.9 1143.8 L359.9 1143.8 L366.2 1143.8 L366.2 1143.8 L372.4 1143.8 L372.4 1136.5 L378.6 1136.5 L378.6 1136.5 L384.9 1136.5 L384.9 1136.5 L391.1 1136.5 L391.1 1136.5 L397.3 1136.5 L397.3 1129.1 L403.6 1129.1 L403.6 1129.1 L409.8 1129.1 L409.8 1129.1 L416.1 1129.1 L416.1 1129.1 L422.3 1129.1 L422.3 1121.8 L428.5 1121.8 L428.5 1121.8 L434.8 1121.8 L434.8 1121.8 L441 1121.8 L441 1121.8 L447.3 1121.8 L447.3 1114.5 L453.5 1114.5 L453.5 1114.5 L459.7 1114.5 L459.7 1114.5 L466 1114.5 L466 1107.1 L472.2 1107.1 L472.2 1107.1 L478.5 1107.1 L478.5 1107.1 L484.7 1107.1 L484.7 1107.1 L490.9 1107.1 L490.9 1099.8 L497.2 1099.8 L497.2 1099.8 L503.4 1099.8 L503.4 1092.4 L509.7 1092.4 L509.7 1092.4 L515.9 1092.4 L515.9 1092.4 L522.1 1092.4 L522.1 1085.1 L528.4 1085.1 L528.4 1085.1 L534.6 1085.1 L534.6 1085.1 L540.9 1085.1 L540.9 1077.8 L547.1 1077.8 L547.1 1077.8 L553.3 1077.8 L553.3 1077.8 L559.6 1077.8 L559.6 1070.4 L565.8 1070.4 L565.8 1070.4 L572.1 1070.4 L572.1 1070.4 L578.3 1070.4 L578.3 1063.1 L584.5 1063.1 L584.5 1063.1 L590.8 1063.1 L590.8 1055.7 L597 1055.7 L597 1055.7 L603.3 1055.7 L603.3 1055.7 L609.5 1055.7 L609.5 1048.4 L615.7 1048.4 L615.7 1048.4 L622 1048.4 L622 1041.1 L628.2 1041.1 L628.2 1041.1 L634.5 1041.1 L634.5 1041.1 L640.7 1041.1 L640.7 1033.7 L646.9 1033.7 L646.9 1033.7 L653.2 1033.7 L653.2 1033.7 L659.4 1033.7 L659.4 1033.7 L665.7 1033.7 L665.7 1026.4 L671.9 1026.4 L671.9 1019 L678.1 1019 L678.1 1019 L684.4 1019 L684.4 1011.7 L690.6 1011.7 L690.6 1011.7 L696.9 1011.7 L696.9 1011.7 L703.1 1011.7 L703.1 1004.4 L709.3 1004.4 L709.3 1004.4 L715.6 1004.4 L715.6 1004.4 L721.8 1004.4 L721.8 997 L728.1 997 L728.1 997 L734.3 997 L734.3 997 L740.5 997 L740.5 989.7 L746.8 989.7 L746.8 989.7 L753 989.7 L753 989.7 L759.3 989.7 L759.3 982.3 L765.5 982.3 L765.5 982.3 L771.7 982.3 L771.7 975 L778 975 L778 975 L784.2 975 L784.2 975 L790.5 975 L790.5 967.7 L796.7 967.7 L796.7 967.7 L802.9 967.7 L802.9 967.7 L809.2 967.7 L809.2 960.3 L815.4 960.3 L815.4 960.3 L821.7 960.3 L821.7 960.3 L827.9 960.3 L827.9 953 L834.1 953 L834.1 953 L840.4 953 L840.4 953 L846.6 953 L846.6 953 L852.9 953 L852.9 945.6 L859.1 945.6 L859.1 945.6 L865.3 945.6 L865.3 945.6 L871.6 945.6 L871.6 938.3 L877.8 938.3 L877.8 938.3 L884.1 938.3 L884.1 938.3 L890.3 938.3 L890.3 938.3 L896.5 938.3 L896.5 931 L902.8 931 L902.8 931 L909 931 L909 931 L915.3 931 L915.3 931 L921.5 931 L921.5 923.6 L927.7 923.6 L927.7 923.6 L934 923.6 L934 923.6 L940.2 923.6 L940.2 923.6 L946.5 923.6 L946.5 916.3 L952.7 916.3 L952.7 916.3 L958.9 916.3 L958.9 916.3 L965.2 916.3 L965.2 916.3 L971.4 916.3 L971.4 908.9 L977.7 908.9 L977.7 908.9 L983.9 908.9 L983.9 908.9 L990.1 908.9 L990.1 908.9 L996.4 908.9 L996.4 901.6 L1002.6 901.6 L1002.6 901.6 L1008.8 901.6 L1008.8 894.3 L1015.1 894.3 L1015.1 894.3 L1021.3 894.3 L1021.3 894.3 L1027.6 894.3 L1027.6 894.3 L1033.8 894.3 L1033.8 886.9 L1040 886.9 L1040 886.9 L1046.3 886.9 L1046.3 886.9 L1052.5 886.9 L1052.5 886.9 L1058.8 886.9 L1058.8 879.6 L1065 879.6 L1065 879.6 L1071.2 879.6 L1071.2 879.6 L1077.5 879.6 L1077.5 872.2 L1083.7 872.2 L1083.7 872.2 L1090 872.2 L1090 872.2 L1096.2 872.2 L1096.2 864.9 L1102.4 864.9 L1102.4 864.9 L1108.7 864.9 L1108.7 864.9 L1114.9 864.9 L1114.9 864.9 L1121.2 864.9 L1121.2 857.6 L1127.4 857.6 L1127.4 857.6 L1133.6 857.6 L1133.6 857.6 L1139.9 857.6 L1139.9 857.6 L1146.1 857.6 L1146.1 850.2 L1152.4 850.2 L1152.4 850.2 L1158.6 850.2 L1158.6 850.2 L1164.8 850.2 L1164.8 850.2 L1171.1 850.2 L1171.1 842.9 L1177.3 842.9 L1177.3 842.9 L1183.6 842.9 L1183.6 842.9 L1189.8 842.9 L1189.8 842.9 L1196 842.9 L1196 842.9 L1202.3 842.9 L1202.3 842.9 L1208.5 842.9 L1208.5 835.5 L1214.8 835.5 L1214.8 835.5 L1221 835.5 L1221 835.5 L1227.2 835.5 L1227.2 835.5 L1233.5 835.5 L1233.5 835.5 L1239.7 835.5 L1239.7 835.5 L1246 835.5 L1246 835.5 L1252.2 835.5 L1252.2 835.5 L1258.4 835.5 L1258.4 835.5 L1264.7 835.5 L1264.7 835.5 L1270.9 835.5 L1270.9 835.5 L1277.2 835.5 L1277.2 835.5 L1283.4 835.5 L1283.4 835.5 L1289.6 835.5 L1289.6 835.5 L1295.9 835.5 L1295.9 835.5 L1302.1 835.5 L1302.1 835.5 L1308.4 835.5 L1308.4 835.5 L1314.6 835.5 L1314.6 835.5 L1320.8 835.5 L1320.8 835.5 L1327.1 835.5 L1327.1 835.5 L1333.3 835.5 L1333.3 835.5 L1339.6 835.5 L1339.6 835.5 L1345.8 835.5 L1345.8 835.5 L1352 835.5 L1352 835.5 L1358.3 835.5 L1358.3 835.5 L1364.5 835.5 L1364.5 835.5 L1370.8 835.5 L1370.8 835.5 L1377 835.5 L1377 835.5 L1383.2 835.5 L1383.2 835.5 L1389.5 835.5 L1389.5 835.5 L1395.7 835.5 L1395.7 835.5 L1402 835.5 L1402 835.5 L1408.2 835.5 L1408.2 835.5 L1414.4 835.5 L1414.4 835.5 L1420.7 835.5 L1420.7 835.5 L1426.9 835.5 L1426.9 835.5 L1433.2 835.5 L1433.2 835.5 L1439.4 835.5 L1439.4 835.5 L1445.6 835.5 L1445.6 842.9 L1451.9 842.9 L1451.9 842.9 L1458.1 842.9 L1458.1 842.9 L1464.4 842.9 L1464.4 842.9 L1470.6 842.9 L1470.6 842.9 L1476.8 842.9 L1476.8 842.9 L1483.1 842.9 L1483.1 842.9 L1489.3 842.9 L1489.3 842.9 L1495.6 842.9 L1495.6 850.2 L1501.8 850.2 L1501.8 850.2 L1508 850.2 L1508 850.2 L1514.3 850.2 L1514.3 850.2 L1520.5 850.2 L1520.5 850.2 L1526.8 850.2 L1526.8 850.2 L1533 850.2 L1533 850.2 L1539.2 850.2 L1539.2 857.6 L1545.5 857.6 L1545.5 857.6 L1551.7 857.6 L1551.7 857.6 L1558 857.6 L1558 857.6 L1564.2 857.6 L1564.2 857.6 L1570.4 857.6 L1570.4 857.6 L1576.7 857.6 L1576.7 864.9 L1582.9 864.9 L1582.9 864.9 L1589.2 864.9 L1589.2 864.9 L1595.4 864.9 L1595.4 864.9 L1601.6 864.9 L1601.6 864.9 L1607.9 864.9 L1607.9 872.2 L1614.1 872.2 L1614.1 872.2 L1620.4 872.2 L1620.4 872.2 L1626.6 872.2 L1626.6 872.2 L1632.8 872.2 L1632.8 879.6 L1639.1 879.6 L1639.1 879.6 L1645.3 879.6 L1645.3 879.6 L1651.5 879.6 L1651.5 886.9 L1657.8 886.9 L1657.8 886.9 L1664 886.9 L1664 886.9 L1670.3 886.9 L1670.3 894.3 L1676.5 894.3 L1676.5 894.3 L1682.7 894.3 L1682.7 894.3 L1689 894.3 L1689 901.6 L1695.2 901.6 L1695.2 901.6 L1701.5 901.6 L1701.5 916.3 L1707.7 916.3 L1707.7 916.3 L1713.9 916.3 L1713.9 916.3 L1720.2 916.3 L1720.2 923.6 L1726.4 923.6 L1726.4 923.6 L1732.7 923.6 L1732.7 931 L1738.9 931 L1738.9 931 L1745.1 931 L1745.1 931 L1751.4 931 L1751.4 938.3 L1757.6 938.3 L1757.6 938.3 L1763.9 938.3 L1763.9 945.6 L1770.1 945.6 L1770.1 945.6 L1776.3 945.6 L1776.3 953 L1782.6 953 L1782.6 953 L1788.8 953 L1788.8 953 L1795.1 953 L1795.1 960.3 L1801.3 960.3 L1801.3 960.3 L1807.5 960.3 L1807.5 960.3 L1813.8 960.3 L1813.8 967.7 L1820 967.7 L1820 967.7 L1826.3 967.7 L1826.3 967.7 L1832.5 967.7 L1832.5 975 L1838.7 975 L1838.7 975 L1845 975 L1845 975 L1851.2 975 L1851.2 982.3 L1857.5 982.3 L1857.5 982.3 L1863.7 982.3 L1863.7 989.7 L1869.9 989.7 L1869.9 989.7 L1876.2 989.7 L1876.2 989.7 L1882.4 989.7 L1882.4 997 L1888.7 997 L1888.7 997 L1894.9 997 L1894.9 997 L1901.1 997 L1901.1 997 L1907.4 997 L1907.4 1004.4 L1913.6 1004.4 L1913.6 1004.4 L1919.9 1004.4 L1919.9 1004.4 L1926.1 1004.4 L1926.1 1011.7 L1932.3 1011.7 L1932.3 1011.7 L1938.6 1011.7 L1938.6 1011.7 L1944.8 1011.7 L1944.8 1019 L1951.1 1019 L1951.1 1019 L1957.3 1019 L1957.3 1019 L1963.5 1019 L1963.5 1026.4 L1969.8 1026.4 L1969.8 1026.4 L1976 1026.4 L1976 1026.4 L1982.3 1026.4 L1982.3 1033.7 L1988.5 1033.7 L1988.5 1033.7 L1994.7 1033.7 L1994.7 1033.7 L2001 1033.7 L2001 1033.7 L2007.2 1033.7 L2007.2 1041.1 L2013.5 1041.1 L2013.5 1041.1 L2019.7 1041.1 L2019.7 1041.1 L2025.9 1041.1 L2025.9 1048.4 L2032.2 1048.4 L2032.2 1048.4 L2038.4 1048.4 L2038.4 1048.4 L2044.7 1048.4 L2044.7 1055.7 L2050.9 1055.7 L2050.9 1055.7 L2057.1 1055.7 L2057.1 1063.1 L2063.4 1063.1 L2063.4 1063.1 L2069.6 1063.1 L2069.6 1063.1 L2075.9 1063.1 L2075.9 1070.4 L2082.1 1070.4 L2082.1 1070.4 L2088.3 1070.4 L2088.3 1070.4 L2094.6 1070.4 L2094.6 1077.8 L2100.8 1077.8 L2100.8 1077.8 L2107.1 1077.8 L2107.1 1077.8 L2113.3 1077.8 L2113.3 1085.1 L2119.5 1085.1 L2119.5 1085.1 L2125.8 1085.1 L2125.8 1085.1 L2132 1085.1 L2132 1092.4 L2138.3 1092.4 L2138.3 1092.4 L2144.5 1092.4 L2144.5 1099.8 L2150.7 1099.8 L2150.7 1099.8 L2157 1099.8 L2157 1107.1 L2163.2 1107.1 L2163.2 1107.1 L2169.5 1107.1 L2169.5 1107.1 L2175.7 1107.1 L2175.7 1114.5 L2181.9 1114.5 L2181.9 1114.5 L2188.2 1114.5 L2188.2 1114.5 L2194.4 1114.5 L2194.4 1121.8 L2200.7 1121.8 L2200.7 1121.8 L2206.9 1121.8 L2206.9 1129.1 L2213.1 1129.1 L2213.1 1129.1 L2219.4 1129.1 L2219.4 1129.1 L2225.6 1129.1 L2225.6 1136.5 L2231.9 1136.5 L2231.9 1136.5 L2238.1 1136.5 L2238.1 1136.5 L2244.3 1136.5 L2244.3 1143.8 L2250.6 1143.8 L2250.6 1143.8 L2256.8 1143.8 L2256.8 1143.8 L2263 1143.8 L2263 1151.2 L2269.3 1151.2 L2269.3 1151.2 L2275.5 1151.2 L2275.5 1151.2 L2281.8 1151.2 L2281.8 1151.2 L2288 1151.2 L2288 1151.2 L2294.2 1151.2 L2294.2 1158.5 L2300.5 1158.5 L2300.5 1158.5 L2306.7 1158.5 L2306.7 1158.5 L2313 1158.5 L2313 1158.5 L2319.2 1158.5 L2319.2 1158.5 L2325.4 1158.5 L2325.4 1158.5 L2331.7 1158.5 L2331.7 1158.5 L2331.7 1158.5 L2331.7 1246.6 L2331.7 1246.6 L2331.7 1246.6 L2325.4 1246.6 L2325.4 1246.6 L2319.2 1246.6 L2319.2 1239.2 L2313 1239.2 L2313 1239.2 L2306.7 1239.2 L2306.7 1239.2 L2300.5 1239.2 L2300.5 1239.2 L2294.2 1239.2 L2294.2 1231.9 L2288 1231.9 L2288 1231.9 L2281.8 1231.9 L2281.8 1231.9 L2275.5 1231.9 L2275.5 1231.9 L2269.3 1231.9 L2269.3 1224.6 L2263 1224.6 L2263 1224.6 L2256.8 1224.6 L2256.8 1224.6 L2250.6 1224.6 L2250.6 1217.2 L2244.3 1217.2 L2244.3 1217.2 L2238.1 1217.2 L2238.1 1217.2 L2231.9 1217.2 L2231.9 1217.2 L2225.6 1217.2 L2225.6 1209.9 L2219.4 1209.9 L2219.4 1209.9 L2213.1 1209.9 L2213.1 1209.9 L2206.9 1209.9 L2206.9 1202.5 L2200.7 1202.5 L2200.7 1202.5 L2194.4 1202.5 L2194.4 1202.5 L2188.2 1202.5 L2188.2 1195.2 L2181.9 1195.2 L2181.9 1195.2 L2175.7 1195.2 L2175.7 1195.2 L2169.5 1195.2 L2169.5 1187.9 L2163.2 1187.9 L2163.2 1187.9 L2157 1187.9 L2157 1180.5 L2150.7 1180.5 L2150.7 1180.5 L2144.5 1180.5 L2144.5 1173.2 L2138.3 1173.2 L2138.3 1173.2 L2132 1173.2 L2132 1173.2 L2125.8 1173.2 L2125.8 1173.2 L2119.5 1173.2 L2119.5 1165.8 L2113.3 1165.8 L2113.3 1165.8 L2107.1 1165.8 L2107.1 1158.5 L2100.8 1158.5 L2100.8 1158.5 L2094.6 1158.5 L2094.6 1158.5 L2088.3 1158.5 L2088.3 1158.5 L2082.1 1158.5 L2082.1 1158.5 L2075.9 1158.5 L2075.9 1151.2 L2069.6 1151.2 L2069.6 1151.2 L2063.4 1151.2 L2063.4 1143.8 L2057.1 1143.8 L2057.1 1143.8 L2050.9 1143.8 L2050.9 1143.8 L2044.7 1143.8 L2044.7 1136.5 L2038.4 1136.5 L2038.4 1136.5 L2032.2 1136.5 L2032.2 1136.5 L2025.9 1136.5 L2025.9 1136.5 L2019.7 1136.5 L2019.7 1136.5 L2013.5 1136.5 L2013.5 1129.1 L2007.2 1129.1 L2007.2 1129.1 L2001 1129.1 L2001 1129.1 L1994.7 1129.1 L1994.7 1129.1 L1988.5 1129.1 L1988.5 1121.8 L1982.3 1121.8 L1982.3 1121.8 L1976 1121.8 L1976 1121.8 L1969.8 1121.8 L1969.8 1121.8 L1963.5 1121.8 L1963.5 1121.8 L1957.3 1121.8 L1957.3 1114.5 L1951.1 1114.5 L1951.1 1114.5 L1944.8 1114.5 L1944.8 1114.5 L1938.6 1114.5 L1938.6 1114.5 L1932.3 1114.5 L1932.3 1114.5 L1926.1 1114.5 L1926.1 1107.1 L1919.9 1107.1 L1919.9 1107.1 L1913.6 1107.1 L1913.6 1107.1 L1907.4 1107.1 L1907.4 1107.1 L1901.1 1107.1 L1901.1 1099.8 L1894.9 1099.8 L1894.9 1099.8 L1888.7 1099.8 L1888.7 1099.8 L1882.4 1099.8 L1882.4 1092.4 L1876.2 1092.4 L1876.2 1092.4 L1869.9 1092.4 L1869.9 1092.4 L1863.7 1092.4 L1863.7 1085.1 L1857.5 1085.1 L1857.5 1085.1 L1851.2 1085.1 L1851.2 1085.1 L1845 1085.1 L1845 1077.8 L1838.7 1077.8 L1838.7 1077.8 L1832.5 1077.8 L1832.5 1077.8 L1826.3 1077.8 L1826.3 1070.4 L1820 1070.4 L1820 1070.4 L1813.8 1070.4 L1813.8 1070.4 L1807.5 1070.4 L1807.5 1063.1 L1801.3 1063.1 L1801.3 1063.1 L1795.1 1063.1 L1795.1 1063.1 L1788.8 1063.1 L1788.8 1055.7 L1782.6 1055.7 L1782.6 1055.7 L1776.3 1055.7 L1776.3 1055.7 L1770.1 1055.7 L1770.1 1048.4 L1763.9 1048.4 L1763.9 1048.4 L1757.6 1048.4 L1757.6 1041.1 L1751.4 1041.1 L1751.4 1041.1 L1745.1 1041.1 L1745.1 1041.1 L1738.9 1041.1 L1738.9 1033.7 L1732.7 1033.7 L1732.7 1033.7 L1726.4 1033.7 L1726.4 1026.4 L1720.2 1026.4 L1720.2 1026.4 L1713.9 1026.4 L1713.9 1019 L1707.7 1019 L1707.7 1019 L1701.5 1019 L1701.5 1019 L1695.2 1019 L1695.2 1011.7 L1689 1011.7 L1689 1011.7 L1682.7 1011.7 L1682.7 1004.4 L1676.5 1004.4 L1676.5 1004.4 L1670.3 1004.4 L1670.3 1004.4 L1664 1004.4 L1664 997 L1657.8 997 L1657.8 997 L1651.5 997 L1651.5 997 L1645.3 997 L1645.3 989.7 L1639.1 989.7 L1639.1 989.7 L1632.8 989.7 L1632.8 989.7 L1626.6 989.7 L1626.6 982.3 L1620.4 982.3 L1620.4 982.3 L1614.1 982.3 L1614.1 982.3 L1607.9 982.3 L1607.9 982.3 L1601.6 982.3 L1601.6 975 L1595.4 975 L1595.4 975 L1589.2 975 L1589.2 975 L1582.9 975 L1582.9 967.7 L1576.7 967.7 L1576.7 967.7 L1570.4 967.7 L1570.4 967.7 L1564.2 967.7 L1564.2 967.7 L1558 967.7 L1558 960.3 L1551.7 960.3 L1551.7 960.3 L1545.5 960.3 L1545.5 960.3 L1539.2 960.3 L1539.2 960.3 L1533 960.3 L1533 960.3 L1526.8 960.3 L1526.8 960.3 L1520.5 960.3 L1520.5 960.3 L1514.3 960.3 L1514.3 953 L1508 953 L1508 953 L1501.8 953 L1501.8 953 L1495.6 953 L1495.6 953 L1489.3 953 L1489.3 953 L1483.1 953 L1483.1 953 L1476.8 953 L1476.8 953 L1470.6 953 L1470.6 953 L1464.4 953 L1464.4 953 L1458.1 953 L1458.1 953 L1451.9 953 L1451.9 945.6 L1445.6 945.6 L1445.6 945.6 L1439.4 945.6 L1439.4 945.6 L1433.2 945.6 L1433.2 945.6 L1426.9 945.6 L1426.9 945.6 L1420.7 945.6 L1420.7 945.6 L1414.4 945.6 L1414.4 945.6 L1408.2 945.6 L1408.2 945.6 L1402 945.6 L1402 945.6 L1395.7 945.6 L1395.7 945.6 L1389.5 945.6 L1389.5 945.6 L1383.2 945.6 L1383.2 945.6 L1377 945.6 L1377 945.6 L1370.8 945.6 L1370.8 945.6 L1364.5 945.6 L1364.5 945.6 L1358.3 945.6 L1358.3 945.6 L1352 945.6 L1352 945.6 L1345.8 945.6 L1345.8 945.6 L1339.6 945.6 L1339.6 945.6 L1333.3 945.6 L1333.3 945.6 L1327.1 945.6 L1327.1 945.6 L1320.8 945.6 L1320.8 945.6 L1314.6 945.6 L1314.6 945.6 L1308.4 945.6 L1308.4 945.6 L1302.1 945.6 L1302.1 945.6 L1295.9 945.6 L1295.9 945.6 L1289.6 945.6 L1289.6 945.6 L1283.4 945.6 L1283.4 945.6 L1277.2 945.6 L1277.2 945.6 L1270.9 945.6 L1270.9 945.6 L1264.7 945.6 L1264.7 945.6 L1258.4 945.6 L1258.4 945.6 L1252.2 945.6 L1252.2 945.6 L1246 945.6 L1246 945.6 L1239.7 945.6 L1239.7 945.6 L1233.5 945.6 L1233.5 953 L1227.2 953 L1227.2 953 L1221 953 L1221 953 L1214.8 953 L1214.8 953 L1208.5 953 L1208.5 953 L1202.3 953 L1202.3 953 L1196 953 L1196 953 L1189.8 953 L1189.8 960.3 L1183.6 960.3 L1183.6 960.3 L1177.3 960.3 L1177.3 960.3 L1171.1 960.3 L1171.1 960.3 L1164.8 960.3 L1164.8 960.3 L1158.6 960.3 L1158.6 960.3 L1152.4 960.3 L1152.4 967.7 L1146.1 967.7 L1146.1 967.7 L1139.9 967.7 L1139.9 975 L1133.6 975 L1133.6 975 L1127.4 975 L1127.4 975 L1121.2 975 L1121.2 975 L1114.9 975 L1114.9 982.3 L1108.7 982.3 L1108.7 982.3 L1102.4 982.3 L1102.4 982.3 L1096.2 982.3 L1096.2 982.3 L1090 982.3 L1090 989.7 L1083.7 989.7 L1083.7 989.7 L1077.5 989.7 L1077.5 989.7 L1071.2 989.7 L1071.2 997 L1065 997 L1065 997 L1058.8 997 L1058.8 997 L1052.5 997 L1052.5 1004.4 L1046.3 1004.4 L1046.3 1011.7 L1040 1011.7 L1040 1011.7 L1033.8 1011.7 L1033.8 1011.7 L1027.6 1011.7 L1027.6 1019 L1021.3 1019 L1021.3 1019 L1015.1 1019 L1015.1 1019 L1008.8 1019 L1008.8 1019 L1002.6 1019 L1002.6 1026.4 L996.4 1026.4 L996.4 1026.4 L990.1 1026.4 L990.1 1026.4 L983.9 1026.4 L983.9 1026.4 L977.7 1026.4 L977.7 1033.7 L971.4 1033.7 L971.4 1033.7 L965.2 1033.7 L965.2 1033.7 L958.9 1033.7 L958.9 1041.1 L952.7 1041.1 L952.7 1041.1 L946.5 1041.1 L946.5 1041.1 L940.2 1041.1 L940.2 1048.4 L934 1048.4 L934 1048.4 L927.7 1048.4 L927.7 1048.4 L921.5 1048.4 L921.5 1048.4 L915.3 1048.4 L915.3 1055.7 L909 1055.7 L909 1055.7 L902.8 1055.7 L902.8 1055.7 L896.5 1055.7 L896.5 1063.1 L890.3 1063.1 L890.3 1063.1 L884.1 1063.1 L884.1 1063.1 L877.8 1063.1 L877.8 1070.4 L871.6 1070.4 L871.6 1070.4 L865.3 1070.4 L865.3 1070.4 L859.1 1070.4 L859.1 1070.4 L852.9 1070.4 L852.9 1077.8 L846.6 1077.8 L846.6 1077.8 L840.4 1077.8 L840.4 1077.8 L834.1 1077.8 L834.1 1085.1 L827.9 1085.1 L827.9 1085.1 L821.7 1085.1 L821.7 1085.1 L815.4 1085.1 L815.4 1085.1 L809.2 1085.1 L809.2 1085.1 L802.9 1085.1 L802.9 1085.1 L796.7 1085.1 L796.7 1085.1 L790.5 1085.1 L790.5 1092.4 L784.2 1092.4 L784.2 1099.8 L778 1099.8 L778 1099.8 L771.7 1099.8 L771.7 1099.8 L765.5 1099.8 L765.5 1107.1 L759.3 1107.1 L759.3 1107.1 L753 1107.1 L753 1107.1 L746.8 1107.1 L746.8 1114.5 L740.5 1114.5 L740.5 1114.5 L734.3 1114.5 L734.3 1114.5 L728.1 1114.5 L728.1 1121.8 L721.8 1121.8 L721.8 1121.8 L715.6 1121.8 L715.6 1121.8 L709.3 1121.8 L709.3 1129.1 L703.1 1129.1 L703.1 1129.1 L696.9 1129.1 L696.9 1136.5 L690.6 1136.5 L690.6 1136.5 L684.4 1136.5 L684.4 1143.8 L678.1 1143.8 L678.1 1143.8 L671.9 1143.8 L671.9 1143.8 L665.7 1143.8 L665.7 1143.8 L659.4 1143.8 L659.4 1151.2 L653.2 1151.2 L653.2 1151.2 L646.9 1151.2 L646.9 1151.2 L640.7 1151.2 L640.7 1151.2 L634.5 1151.2 L634.5 1158.5 L628.2 1158.5 L628.2 1158.5 L622 1158.5 L622 1165.8 L615.7 1165.8 L615.7 1165.8 L609.5 1165.8 L609.5 1165.8 L603.3 1165.8 L603.3 1165.8 L597 1165.8 L597 1173.2 L590.8 1173.2 L590.8 1173.2 L584.5 1173.2 L584.5 1173.2 L578.3 1173.2 L578.3 1173.2 L572.1 1173.2 L572.1 1173.2 L565.8 1173.2 L565.8 1180.5 L559.6 1180.5 L559.6 1180.5 L553.3 1180.5 L553.3 1180.5 L547.1 1180.5 L547.1 1180.5 L540.9 1180.5 L540.9 1187.9 L534.6 1187.9 L534.6 1187.9 L528.4 1187.9 L528.4 1187.9 L522.1 1187.9 L522.1 1195.2 L515.9 1195.2 L515.9 1195.2 L509.7 1195.2 L509.7 1195.2 L503.4 1195.2 L503.4 1202.5 L497.2 1202.5 L497.2 1202.5 L490.9 1202.5 L490.9 1209.9 L484.7 1209.9 L484.7 1209.9 L478.5 1209.9 L478.5 1209.9 L472.2 1209.9 L472.2 1209.9 L466 1209.9 L466 1217.2 L459.7 1217.2 L459.7 1217.2 L453.5 1217.2 L453.5 1217.2 L447.3 1217.2 L447.3 1217.2 L441 1217.2 L441 1217.2 L434.8 1217.2 L434.8 1224.6 L428.5 1224.6 L428.5 1224.6 L422.3 1224.6 L422.3 1224.6 L416.1 1224.6 L416.1 1231.9 L409.8 1231.9 L409.8 1231.9 L403.6 1231.9 L403.6 1231.9 L397.3 1231.9 L397.3 1231.9 L391.1 1231.9 L391.1 1231.9 L384.9 1231.9 L384.9 1231.9 L378.6 1231.9 L378.6 1231.9 L372.4 1231.9 L372.4 1231.9 L366.2 1231.9 L366.2 1239.2 L359.9 1239.2 L359.9 1239.2 L353.7 1239.2 L353.7 1239.2 L347.4 1239.2 L347.4 1239.2 L341.2 1239.2 L341.2 1239.2 L335 1239.2 L335 1239.2 L328.7 1239.2 L328.7 1246.6 L322.5 1246.6 L322.5 1246.6 L316.2 1246.6 L316.2 1246.6 L310 1246.6 L310 1246.6 L303.8 1246.6 L303.8 1246.6 L297.5 1246.6 L297.5 1246.6 L291.3 1246.6 L291.3 1246.6 L285 1246.6 L285 1246.6 L278.8 1246.6 L278.8 1246.6 L272.6 1246.6 L272.6 1246.6 L266.3 1246.6 L266.3 1246.6 L260.1 1246.6 L260.1 1246.6 L253.8 1246.6 L253.8 1253.9 L247.6 1253.9 L247.6 1253.9 L241.4 1253.9 L241.4 1253.9 L235.1 1253.9 L235.1 1253.9 L228.9 1253.9 L228.9 1253.9 L222.6 1253.9 L222.6 1253.9 L216.4 1253.9 L216.4 1253.9 L210.2 1253.9 L210.2 1253.9 L203.9 1253.9 L203.9 1253.9 L197.7 1253.9 L197.7 1253.9 L191.4 1253.9 L191.4 1253.9 L185.2 1253.9 L185.2 1253.9 L179 1253.9 L179 1253.9 L172.7 1253.9 L172.7 1253.9 L166.5 1253.9 L166.5 1253.9 L160.2 1253.9 L160.2 1253.9 L154 1253.9 L154 1253.9 L147.8 1253.9 L147.8 1253.9 L141.5 1253.9 L141.5 1253.9 L135.3 1253.9 L135.3 1253.9 L129 1253.9 L129 1253.9 L122.8 1253.9 L122.8 1253.9 L116.6 1253.9 L116.6 1253.9 L110.3 1253.9 L110.3 1253.9 L104.1 1253.9 L104.1 1253.9 L97.8 1253.9 L97.8 1253.9 L91.6 1253.9 L91.6 1253.9 L85.4 1253.9 L85.4 1253.9 L79.1 1253.9 L79.1 1246.6 L72.9 1246.6 L72.9 1246.6 L66.6 1246.6 L66.6 1246.6 L60.4 1246.6Z" fill="#c8b8ba"/>
<rect x="62" y="1451.3" width="2269" height="1.5" fill="#fff"/>
<rect x="62" y="1304.5" width="2269" height="1.5" fill="#fff"/>
<rect x="62" y="1157.8" width="2269" height="1.5" fill="#fff"/>
<rect x="62" y="1010.9" width="2269" height="1.5" fill="#fff"/>
<rect x="62" y="864.1" width="2269" height="1.5" fill="#fff"/>
<rect x="62" y="717.3" width="2269" height="1.5" fill="#fff"/>
<line x1="257" y1="575" x2="257" y2="1598" stroke="#888" stroke-opacity="0.75" stroke-width="1.3" stroke-dasharray="4.25 4.25"/>
<line x1="431.7" y1="575" x2="431.7" y2="1598" stroke="#888" stroke-opacity="0.75" stroke-width="1.3" stroke-dasharray="4.25 4.25"/>
<line x1="625.1" y1="575" x2="625.1" y2="1598" stroke="#888" stroke-opacity="0.75" stroke-width="1.3" stroke-dasharray="4.25 4.25"/>
<line x1="812.3" y1="575" x2="812.3" y2="1598" stroke="#888" stroke-opacity="0.75" stroke-width="1.3" stroke-dasharray="4.25 4.25"/>
<line x1="1005.7" y1="575" x2="1005.7" y2="1598" stroke="#888" stroke-opacity="0.75" stroke-width="1.3" stroke-dasharray="4.25 4.25"/>
<line x1="1192.9" y1="575" x2="1192.9" y2="1598" stroke="#888" stroke-opacity="0.75" stroke-width="1.3" stroke-dasharray="4.25 4.25"/>
<line x1="1386.4" y1="575" x2="1386.4" y2="1598" stroke="#888" stroke-opacity="0.75" stroke-width="1.3" stroke-dasharray="4.25 4.25"/>
<line x1="1579.8" y1="575" x2="1579.8" y2="1598" stroke="#888" stroke-opacity="0.75" stroke-width="1.3" stroke-dasharray="4.25 4.25"/>
<line x1="1767" y1="575" x2="1767" y2="1598" stroke="#888" stroke-opacity="0.75" stroke-width="1.3" stroke-dasharray="4.25 4.25"/>
<line x1="1960.4" y1="575" x2="1960.4" y2="1598" stroke="#888" stroke-opacity="0.75" stroke-width="1.3" stroke-dasharray="4.25 4.25"/>
<line x1="2147.6" y1="575" x2="2147.6" y2="1598" stroke="#888" stroke-opacity="0.75" stroke-width="1.3" stroke-dasharray="4.25 4.25"/>
<path d="M61.8 1165.8h4.9v88.1h-4.9zM66.6 1143.8h6.3v51.4h-6.3zM72.8 1143.8h6.3v66.1h-6.3zM79.1 1041.1h6.3v110.1h-6.3zM85.3 1092.4h6.3v205.5h-6.3zM91.5 1290.6h6.3v22h-6.3zM97.8 1283.3h6.3v102.8h-6.3zM104 1298h6.3v95.4h-6.3zM110.3 1209.9h6.3v102.8h-6.3zM116.5 1283.3h6.3v51.4h-6.3zM122.7 1180.5h6.3v139.5h-6.3zM129 1165.8h6.3v29.4h-6.3zM135.2 1187.9h6.3v139.5h-6.3zM141.5 1217.2h6.3v117.4h-6.3zM147.7 1195.2h6.3v73.4h-6.3zM153.9 1136.5h6.3v168.8h-6.3zM160.2 1217.2h6.3v110.1h-6.3zM166.4 1143.8h6.3v80.7h-6.3zM172.7 1143.8h6.3v44h-6.3zM178.9 1158.5h6.3v58.7h-6.3zM185.1 1187.9h6.3v80.7h-6.3zM191.4 1158.5h6.3v66.1h-6.3zM197.6 1165.8h6.3v80.7h-6.3zM203.9 1165.8h6.3v44h-6.3zM210.1 1143.8h6.3v80.7h-6.3zM216.3 1224.6h6.3v66.1h-6.3zM222.6 1231.9h6.3v73.4h-6.3zM228.8 1202.5h6.3v132.1h-6.3zM235.1 1187.9h6.3v124.8h-6.3zM241.3 1173.2h6.3v139.5h-6.3zM247.5 1261.3h6.3v95.4h-6.3zM253.8 1187.9h6.3v117.4h-6.3zM260 1202.5h6.3v146.8h-6.3zM266.3 1261.3h6.3v95.4h-6.3zM272.5 1136.5h6.3v139.5h-6.3zM278.7 1143.8h6.3v205.5h-6.3zM285 1253.9h6.3v110.1h-6.3zM291.2 1158.5h6.3v110.1h-6.3zM297.5 1180.5h6.3v58.7h-6.3zM303.7 1239.2h6.3v29.4h-6.3zM309.9 1158.5h6.3v102.8h-6.3zM316.2 1202.5h6.3v88.1h-6.3zM322.4 1158.5h6.3v176.2h-6.3zM328.7 1298h6.3v95.4h-6.3zM334.9 1217.2h6.3v117.4h-6.3zM341.1 1268.6h6.3v154.1h-6.3zM347.4 1298h6.3v132.1h-6.3zM353.6 1253.9h6.3v95.4h-6.3zM359.9 1209.9h6.3v102.8h-6.3zM366.1 1253.9h6.3v139.5h-6.3zM372.3 1312.6h6.3v124.8h-6.3zM378.6 1217.2h6.3v139.5h-6.3zM384.8 1136.5h6.3v80.7h-6.3zM391.1 1173.2h6.3v220.2h-6.3zM397.3 1275.9h6.3v146.8h-6.3zM403.5 1180.5h6.3v124.8h-6.3zM409.8 1217.2h6.3v80.7h-6.3zM416 1231.9h6.3v88.1h-6.3zM422.3 1239.2h6.3v117.4h-6.3zM428.5 1224.6h6.3v51.4h-6.3zM434.7 1165.8h6.3v88.1h-6.3zM441 1180.5h6.3v110.1h-6.3zM447.2 1121.8h6.3v73.4h-6.3zM453.5 1158.5h6.3v154.1h-6.3zM459.7 1253.9h6.3v110.1h-6.3zM465.9 1173.2h6.3v146.8h-6.3zM472.2 1092.4h6.3v88.1h-6.3zM478.4 1055.7h6.3v102.8h-6.3zM484.7 1063.1h6.3v102.8h-6.3zM490.9 1019h6.3v110.1h-6.3zM497.1 1107.1h6.3v80.7h-6.3zM503.4 1136.5h6.3v88.1h-6.3zM509.6 1077.8h6.3v80.7h-6.3zM515.9 1129.1h6.3v58.7h-6.3zM522.1 1070.4h6.3v124.8h-6.3zM528.3 1033.7h6.3v168.8h-6.3zM534.6 1165.8h6.3v73.4h-6.3zM540.8 1136.5h6.3v102.8h-6.3zM547.1 1173.2h6.3v66.1h-6.3zM553.3 1107.1h6.3v132.1h-6.3zM559.5 1136.5h6.3v110.1h-6.3zM565.8 1173.2h6.3v110.1h-6.3zM572 1121.8h6.3v139.5h-6.3zM578.3 1092.4h6.3v110.1h-6.3zM584.5 997h6.3v146.8h-6.3zM590.7 1114.5h6.3v51.4h-6.3zM597 1158.5h6.3v102.8h-6.3zM603.2 1114.5h6.3v154.1h-6.3zM609.5 1055.7h6.3v132.1h-6.3zM615.7 1107.1h6.3v88.1h-6.3zM621.9 1077.8h6.3v139.5h-6.3zM628.2 960.3h6.3v190.8h-6.3zM634.4 982.3h6.3v36.7h-6.3zM640.7 1011.7h6.3v132.1h-6.3zM646.9 1004.4h6.3v139.5h-6.3zM653.1 989.7h6.3v154.1h-6.3zM659.4 997h6.3v146.8h-6.3zM665.6 1121.8h6.3v58.7h-6.3zM671.9 1136.5h6.3v44h-6.3zM678.1 1041.1h6.3v124.8h-6.3zM684.3 1033.7h6.3v95.4h-6.3zM690.6 967.7h6.3v168.8h-6.3zM696.8 953h6.3v132.1h-6.3zM703 975h6.3v73.4h-6.3zM709.3 923.6h6.3v154.1h-6.3zM715.5 982.3h6.3v88.1h-6.3zM721.8 931h6.3v117.4h-6.3zM728 864.9h6.3v154.1h-6.3zM734.2 982.3h6.3v117.4h-6.3zM740.5 1033.7h6.3v80.7h-6.3zM746.7 975h6.3v95.4h-6.3zM753 945.6h6.3v154.1h-6.3zM759.2 1070.4h6.3v80.7h-6.3zM765.4 1070.4h6.3v95.4h-6.3zM771.7 997h6.3v176.2h-6.3zM777.9 982.3h6.3v132.1h-6.3zM784.2 997h6.3v95.4h-6.3zM790.4 931h6.3v154.1h-6.3zM796.6 879.6h6.3v205.5h-6.3zM802.9 960.3h6.3v139.5h-6.3zM809.1 989.7h6.3v102.8h-6.3zM815.4 908.9h6.3v190.8h-6.3zM821.6 864.9h6.3v212.9h-6.3zM827.8 828.2h6.3v205.5h-6.3zM834.1 828.2h6.3v139.5h-6.3zM840.3 916.3h6.3v102.8h-6.3zM846.6 864.9h6.3v176.2h-6.3zM852.8 850.2h6.3v190.8h-6.3zM859 938.3h6.3v95.4h-6.3zM865.3 842.9h6.3v161.5h-6.3zM871.5 835.5h6.3v102.8h-6.3zM877.8 820.9h6.3v161.5h-6.3zM884 938.3h6.3v124.8h-6.3zM890.2 916.3h6.3v168.8h-6.3zM896.5 901.6h6.3v146.8h-6.3zM902.7 901.6h6.3v132.1h-6.3zM909 842.9h6.3v139.5h-6.3zM915.2 901.6h6.3v110.1h-6.3zM921.4 864.9h6.3v154.1h-6.3zM927.7 960.3h6.3v95.4h-6.3zM933.9 997h6.3v73.4h-6.3zM940.2 908.9h6.3v139.5h-6.3zM946.4 938.3h6.3v154.1h-6.3zM952.6 857.6h6.3v183.5h-6.3zM958.9 828.2h6.3v154.1h-6.3zM965.1 806.2h6.3v154.1h-6.3zM971.4 828.2h6.3v110.1h-6.3zM977.6 828.2h6.3v110.1h-6.3zM983.8 828.2h6.3v146.8h-6.3zM990.1 828.2h6.3v132.1h-6.3zM996.3 813.5h6.3v220.2h-6.3zM1002.6 1026.4h6.3v51.4h-6.3zM1008.8 1048.4h6.3v36.7h-6.3zM1015 938.3h6.3v132.1h-6.3zM1021.3 975h6.3v80.7h-6.3zM1027.5 938.3h6.3v110.1h-6.3zM1033.8 894.3h6.3v117.4h-6.3zM1040 908.9h6.3v139.5h-6.3zM1046.2 872.2h6.3v117.4h-6.3zM1052.5 842.9h6.3v110.1h-6.3zM1058.7 850.2h6.3v124.8h-6.3zM1065 798.8h6.3v124.8h-6.3zM1071.2 806.2h6.3v110.1h-6.3zM1077.4 820.9h6.3v102.8h-6.3zM1083.7 806.2h6.3v161.5h-6.3zM1089.9 842.9h6.3v139.5h-6.3zM1096.2 872.2h6.3v102.8h-6.3zM1102.4 850.2h6.3v117.4h-6.3zM1108.6 931h6.3v51.4h-6.3zM1114.9 813.5h6.3v139.5h-6.3zM1121.1 901.6h6.3v80.7h-6.3zM1127.4 806.2h6.3v124.8h-6.3zM1133.6 813.5h6.3v124.8h-6.3zM1139.8 791.5h6.3v110.1h-6.3zM1146.1 835.5h6.3v117.4h-6.3zM1152.3 842.9h6.3v132.1h-6.3zM1158.6 857.6h6.3v88.1h-6.3zM1164.8 931h6.3v95.4h-6.3zM1171 916.3h6.3v80.7h-6.3zM1177.3 894.3h6.3v95.4h-6.3zM1183.5 850.2h6.3v102.8h-6.3zM1189.8 850.2h6.3v95.4h-6.3zM1196 864.9h6.3v80.7h-6.3zM1202.2 850.2h6.3v117.4h-6.3zM1208.5 901.6h6.3v44h-6.3zM1214.7 842.9h6.3v110.1h-6.3zM1221 842.9h6.3v80.7h-6.3zM1227.2 806.2h6.3v95.4h-6.3zM1233.4 806.2h6.3v80.7h-6.3zM1239.7 872.2h6.3v80.7h-6.3zM1245.9 835.5h6.3v88.1h-6.3zM1252.2 806.2h6.3v139.5h-6.3zM1258.4 798.8h6.3v124.8h-6.3zM1264.6 806.2h6.3v110.1h-6.3zM1270.9 850.2h6.3v66.1h-6.3zM1277.1 857.6h6.3v66.1h-6.3zM1283.4 864.9h6.3v117.4h-6.3zM1289.6 857.6h6.3v102.8h-6.3zM1295.8 828.2h6.3v102.8h-6.3zM1302.1 769.5h6.3v110.1h-6.3zM1308.3 762.1h6.3v88.1h-6.3zM1314.5 798.8h6.3v110.1h-6.3zM1320.8 828.2h6.3v117.4h-6.3zM1327 820.9h6.3v132.1h-6.3zM1333.3 813.5h6.3v124.8h-6.3zM1339.5 806.2h6.3v139.5h-6.3zM1345.7 791.5h6.3v117.4h-6.3zM1352 820.9h6.3v110.1h-6.3zM1358.2 754.8h6.3v146.8h-6.3zM1364.5 747.5h6.3v132.1h-6.3zM1370.7 813.5h6.3v80.7h-6.3zM1376.9 798.8h6.3v124.8h-6.3zM1383.2 798.8h6.3v102.8h-6.3zM1389.4 798.8h6.3v132.1h-6.3zM1395.7 791.5h6.3v110.1h-6.3zM1401.9 798.8h6.3v146.8h-6.3zM1408.1 813.5h6.3v110.1h-6.3zM1414.4 842.9h6.3v117.4h-6.3zM1420.6 835.5h6.3v110.1h-6.3zM1426.9 850.2h6.3v102.8h-6.3zM1433.1 828.2h6.3v124.8h-6.3zM1439.3 835.5h6.3v102.8h-6.3zM1445.6 857.6h6.3v73.4h-6.3zM1451.8 828.2h6.3v102.8h-6.3zM1458.1 842.9h6.3v117.4h-6.3zM1464.3 806.2h6.3v154.1h-6.3zM1470.5 776.8h6.3v139.5h-6.3zM1476.8 769.5h6.3v124.8h-6.3zM1483 754.8h6.3v124.8h-6.3zM1489.3 791.5h6.3v124.8h-6.3zM1495.5 813.5h6.3v73.4h-6.3zM1501.7 820.9h6.3v66.1h-6.3zM1508 813.5h6.3v117.4h-6.3zM1514.2 820.9h6.3v124.8h-6.3zM1520.5 828.2h6.3v110.1h-6.3zM1526.7 813.5h6.3v102.8h-6.3zM1532.9 791.5h6.3v124.8h-6.3zM1539.2 828.2h6.3v132.1h-6.3zM1545.4 850.2h6.3v110.1h-6.3zM1551.7 850.2h6.3v139.5h-6.3zM1557.9 813.5h6.3v146.8h-6.3zM1564.1 791.5h6.3v132.1h-6.3zM1570.4 784.2h6.3v110.1h-6.3zM1576.6 791.5h6.3v102.8h-6.3zM1582.9 784.2h6.3v124.8h-6.3zM1589.1 769.5h6.3v139.5h-6.3zM1595.3 828.2h6.3v95.4h-6.3zM1601.6 842.9h6.3v117.4h-6.3zM1607.8 813.5h6.3v161.5h-6.3zM1614.1 776.8h6.3v161.5h-6.3zM1620.3 740.1h6.3v154.1h-6.3zM1626.5 791.5h6.3v102.8h-6.3zM1632.8 872.2h6.3v66.1h-6.3zM1639 857.6h6.3v110.1h-6.3zM1645.3 872.2h6.3v73.4h-6.3zM1651.5 864.9h6.3v132.1h-6.3zM1657.7 886.9h6.3v132.1h-6.3zM1664 835.5h6.3v161.5h-6.3zM1670.2 806.2h6.3v161.5h-6.3zM1676.5 798.8h6.3v154.1h-6.3zM1682.7 813.5h6.3v139.5h-6.3zM1688.9 842.9h6.3v110.1h-6.3zM1695.2 872.2h6.3v110.1h-6.3zM1701.4 916.3h6.3v102.8h-6.3zM1707.7 931h6.3v66.1h-6.3zM1713.9 864.9h6.3v154.1h-6.3zM1720.1 850.2h6.3v161.5h-6.3zM1726.4 894.3h6.3v95.4h-6.3zM1732.6 923.6h6.3v80.7h-6.3zM1738.9 931h6.3v110.1h-6.3zM1745.1 879.6h6.3v95.4h-6.3zM1751.3 842.9h6.3v80.7h-6.3zM1757.6 872.2h6.3v146.8h-6.3zM1763.8 982.3h6.3v58.7h-6.3zM1770.1 1033.7h6.3v66.1h-6.3zM1776.3 1048.4h6.3v44h-6.3zM1782.5 989.7h6.3v73.4h-6.3zM1788.8 960.3h6.3v110.1h-6.3zM1795 916.3h6.3v154.1h-6.3zM1801.3 916.3h6.3v110.1h-6.3zM1807.5 923.6h6.3v95.4h-6.3zM1813.7 879.6h6.3v124.8h-6.3zM1820 975h6.3v110.1h-6.3zM1826.2 945.6h6.3v117.4h-6.3zM1832.5 886.9h6.3v154.1h-6.3zM1838.7 923.6h6.3v80.7h-6.3zM1844.9 945.6h6.3v88.1h-6.3zM1851.2 982.3h6.3v95.4h-6.3zM1857.4 982.3h6.3v58.7h-6.3zM1863.7 1041.1h6.3v102.8h-6.3zM1869.9 1085.1h6.3v88.1h-6.3zM1876.1 1063.1h6.3v132.1h-6.3zM1882.4 938.3h6.3v161.5h-6.3zM1888.6 894.3h6.3v139.5h-6.3zM1894.9 901.6h6.3v124.8h-6.3zM1901.1 975h6.3v146.8h-6.3zM1907.3 1033.7h6.3v124.8h-6.3zM1913.6 953h6.3v146.8h-6.3zM1919.8 1026.4h6.3v88.1h-6.3zM1926.1 1019h6.3v102.8h-6.3zM1932.3 945.6h6.3v117.4h-6.3zM1938.5 916.3h6.3v117.4h-6.3zM1944.8 1004.4h6.3v95.4h-6.3zM1951 1041.1h6.3v102.8h-6.3zM1957.2 975h6.3v80.7h-6.3zM1963.5 989.7h6.3v66.1h-6.3zM1969.7 923.6h6.3v176.2h-6.3zM1976 938.3h6.3v102.8h-6.3zM1982.2 931h6.3v110.1h-6.3zM1988.4 908.9h6.3v58.7h-6.3zM1994.7 923.6h6.3v139.5h-6.3zM2000.9 1041.1h6.3v73.4h-6.3zM2007.2 1019h6.3v117.4h-6.3zM2013.4 1033.7h6.3v44h-6.3zM2019.6 1026.4h6.3v66.1h-6.3zM2025.9 1004.4h6.3v73.4h-6.3zM2032.1 1026.4h6.3v88.1h-6.3zM2038.4 1092.4h6.3v51.4h-6.3zM2044.6 1026.4h6.3v139.5h-6.3zM2050.8 960.3h6.3v117.4h-6.3zM2057.1 1070.4h6.3v88.1h-6.3zM2063.3 1026.4h6.3v88.1h-6.3zM2069.6 982.3h6.3v51.4h-6.3zM2075.8 982.3h6.3v132.1h-6.3zM2082 1063.1h6.3v80.7h-6.3zM2088.3 1048.4h6.3v95.4h-6.3zM2094.5 1129.1h6.3v80.7h-6.3zM2100.8 1114.5h6.3v102.8h-6.3zM2107 1085.1h6.3v102.8h-6.3zM2113.2 1011.7h6.3v139.5h-6.3zM2119.5 982.3h6.3v95.4h-6.3zM2125.7 989.7h6.3v146.8h-6.3zM2132 1099.8h6.3v80.7h-6.3zM2138.2 1107.1h6.3v102.8h-6.3zM2144.4 1077.8h6.3v51.4h-6.3zM2150.7 1033.7h6.3v80.7h-6.3zM2156.9 1048.4h6.3v80.7h-6.3zM2163.2 1077.8h6.3v66.1h-6.3zM2169.4 1077.8h6.3v80.7h-6.3zM2175.6 1063.1h6.3v102.8h-6.3zM2181.9 1055.7h6.3v88.1h-6.3zM2188.1 1092.4h6.3v58.7h-6.3zM2194.4 1048.4h6.3v110.1h-6.3zM2200.6 1011.7h6.3v66.1h-6.3zM2206.8 1004.4h6.3v80.7h-6.3zM2213.1 967.7h6.3v80.7h-6.3zM2219.3 960.3h6.3v88.1h-6.3zM2225.6 960.3h6.3v102.8h-6.3zM2231.8 953h6.3v110.1h-6.3zM2238 1063.1h6.3v51.4h-6.3zM2244.3 1019h6.3v66.1h-6.3zM2250.5 1033.7h6.3v139.5h-6.3zM2256.8 1158.5h6.3v36.7h-6.3zM2263 1136.5h6.3v66.1h-6.3zM2269.2 1041.1h6.3v124.8h-6.3zM2275.5 997h6.3v66.1h-6.3zM2281.7 982.3h6.3v88.1h-6.3zM2288 923.6h6.3v66.1h-6.3zM2294.2 967.7h6.3v66.1h-6.3zM2300.4 1019h6.3v88.1h-6.3zM2306.7 1004.4h6.3v110.1h-6.3zM2312.9 1114.5h6.3v88.1h-6.3zM2319.2 1114.5h6.3v88.1h-6.3zM2325.4 1099.8h6.3v73.4h-6.3zM2331.6 1099.8h0.1v102.8h-0.1z" fill="none" stroke="#f7f9f2" stroke-opacity="0.7" stroke-width="2.6"/>
<path d="M61.8 1165.8h4.9v88.1h-4.9zM66.6 1143.8h6.3v51.4h-6.3zM72.8 1143.8h6.3v66.1h-6.3zM79.1 1041.1h6.3v110.1h-6.3zM85.3 1092.4h6.3v205.5h-6.3zM91.5 1290.6h6.3v22h-6.3zM97.8 1283.3h6.3v102.8h-6.3zM104 1298h6.3v95.4h-6.3zM110.3 1209.9h6.3v102.8h-6.3zM116.5 1283.3h6.3v51.4h-6.3zM122.7 1180.5h6.3v139.5h-6.3zM129 1165.8h6.3v29.4h-6.3zM135.2 1187.9h6.3v139.5h-6.3zM141.5 1217.2h6.3v117.4h-6.3zM147.7 1195.2h6.3v73.4h-6.3zM153.9 1136.5h6.3v168.8h-6.3zM160.2 1217.2h6.3v110.1h-6.3zM166.4 1143.8h6.3v80.7h-6.3zM172.7 1143.8h6.3v44h-6.3zM178.9 1158.5h6.3v58.7h-6.3zM185.1 1187.9h6.3v80.7h-6.3zM191.4 1158.5h6.3v66.1h-6.3zM197.6 1165.8h6.3v80.7h-6.3zM203.9 1165.8h6.3v44h-6.3zM210.1 1143.8h6.3v80.7h-6.3zM216.3 1224.6h6.3v66.1h-6.3zM222.6 1231.9h6.3v73.4h-6.3zM228.8 1202.5h6.3v132.1h-6.3zM235.1 1187.9h6.3v124.8h-6.3zM241.3 1173.2h6.3v139.5h-6.3zM247.5 1261.3h6.3v95.4h-6.3zM253.8 1187.9h6.3v117.4h-6.3zM260 1202.5h6.3v146.8h-6.3zM266.3 1261.3h6.3v95.4h-6.3zM272.5 1136.5h6.3v139.5h-6.3zM278.7 1143.8h6.3v205.5h-6.3zM285 1253.9h6.3v110.1h-6.3zM291.2 1158.5h6.3v110.1h-6.3zM297.5 1180.5h6.3v58.7h-6.3zM303.7 1239.2h6.3v29.4h-6.3zM309.9 1158.5h6.3v102.8h-6.3zM316.2 1202.5h6.3v88.1h-6.3zM322.4 1158.5h6.3v176.2h-6.3zM328.7 1298h6.3v95.4h-6.3zM334.9 1217.2h6.3v117.4h-6.3zM341.1 1268.6h6.3v154.1h-6.3zM347.4 1298h6.3v132.1h-6.3zM353.6 1253.9h6.3v95.4h-6.3zM359.9 1209.9h6.3v102.8h-6.3zM366.1 1253.9h6.3v139.5h-6.3zM372.3 1312.6h6.3v124.8h-6.3zM378.6 1217.2h6.3v139.5h-6.3zM384.8 1136.5h6.3v80.7h-6.3zM391.1 1173.2h6.3v220.2h-6.3zM397.3 1275.9h6.3v146.8h-6.3zM403.5 1180.5h6.3v124.8h-6.3zM409.8 1217.2h6.3v80.7h-6.3zM416 1231.9h6.3v88.1h-6.3zM422.3 1239.2h6.3v117.4h-6.3zM428.5 1224.6h6.3v51.4h-6.3zM434.7 1165.8h6.3v88.1h-6.3zM441 1180.5h6.3v110.1h-6.3zM447.2 1121.8h6.3v73.4h-6.3zM453.5 1158.5h6.3v154.1h-6.3zM459.7 1253.9h6.3v110.1h-6.3zM465.9 1173.2h6.3v146.8h-6.3zM472.2 1092.4h6.3v88.1h-6.3zM478.4 1055.7h6.3v102.8h-6.3zM484.7 1063.1h6.3v102.8h-6.3zM490.9 1019h6.3v110.1h-6.3zM497.1 1107.1h6.3v80.7h-6.3zM503.4 1136.5h6.3v88.1h-6.3zM509.6 1077.8h6.3v80.7h-6.3zM515.9 1129.1h6.3v58.7h-6.3zM522.1 1070.4h6.3v124.8h-6.3zM528.3 1033.7h6.3v168.8h-6.3zM534.6 1165.8h6.3v73.4h-6.3zM540.8 1136.5h6.3v102.8h-6.3zM547.1 1173.2h6.3v66.1h-6.3zM553.3 1107.1h6.3v132.1h-6.3zM559.5 1136.5h6.3v110.1h-6.3zM565.8 1173.2h6.3v110.1h-6.3zM572 1121.8h6.3v139.5h-6.3zM578.3 1092.4h6.3v110.1h-6.3zM584.5 997h6.3v146.8h-6.3zM590.7 1114.5h6.3v51.4h-6.3zM597 1158.5h6.3v102.8h-6.3zM603.2 1114.5h6.3v154.1h-6.3zM609.5 1055.7h6.3v132.1h-6.3zM615.7 1107.1h6.3v88.1h-6.3zM621.9 1077.8h6.3v139.5h-6.3zM628.2 960.3h6.3v190.8h-6.3zM634.4 982.3h6.3v36.7h-6.3zM640.7 1011.7h6.3v132.1h-6.3zM646.9 1004.4h6.3v139.5h-6.3zM653.1 989.7h6.3v154.1h-6.3zM659.4 997h6.3v146.8h-6.3zM665.6 1121.8h6.3v58.7h-6.3zM671.9 1136.5h6.3v44h-6.3zM678.1 1041.1h6.3v124.8h-6.3zM684.3 1033.7h6.3v95.4h-6.3zM690.6 967.7h6.3v168.8h-6.3zM696.8 953h6.3v132.1h-6.3zM703 975h6.3v73.4h-6.3zM709.3 923.6h6.3v154.1h-6.3zM715.5 982.3h6.3v88.1h-6.3zM721.8 931h6.3v117.4h-6.3zM728 864.9h6.3v154.1h-6.3zM734.2 982.3h6.3v117.4h-6.3zM740.5 1033.7h6.3v80.7h-6.3zM746.7 975h6.3v95.4h-6.3zM753 945.6h6.3v154.1h-6.3zM759.2 1070.4h6.3v80.7h-6.3zM765.4 1070.4h6.3v95.4h-6.3zM771.7 997h6.3v176.2h-6.3zM777.9 982.3h6.3v132.1h-6.3zM784.2 997h6.3v95.4h-6.3zM790.4 931h6.3v154.1h-6.3zM796.6 879.6h6.3v205.5h-6.3zM802.9 960.3h6.3v139.5h-6.3zM809.1 989.7h6.3v102.8h-6.3zM815.4 908.9h6.3v190.8h-6.3zM821.6 864.9h6.3v212.9h-6.3zM827.8 828.2h6.3v205.5h-6.3zM834.1 828.2h6.3v139.5h-6.3zM840.3 916.3h6.3v102.8h-6.3zM846.6 864.9h6.3v176.2h-6.3zM852.8 850.2h6.3v190.8h-6.3zM859 938.3h6.3v95.4h-6.3zM865.3 842.9h6.3v161.5h-6.3zM871.5 835.5h6.3v102.8h-6.3zM877.8 820.9h6.3v161.5h-6.3zM884 938.3h6.3v124.8h-6.3zM890.2 916.3h6.3v168.8h-6.3zM896.5 901.6h6.3v146.8h-6.3zM902.7 901.6h6.3v132.1h-6.3zM909 842.9h6.3v139.5h-6.3zM915.2 901.6h6.3v110.1h-6.3zM921.4 864.9h6.3v154.1h-6.3zM927.7 960.3h6.3v95.4h-6.3zM933.9 997h6.3v73.4h-6.3zM940.2 908.9h6.3v139.5h-6.3zM946.4 938.3h6.3v154.1h-6.3zM952.6 857.6h6.3v183.5h-6.3zM958.9 828.2h6.3v154.1h-6.3zM965.1 806.2h6.3v154.1h-6.3zM971.4 828.2h6.3v110.1h-6.3zM977.6 828.2h6.3v110.1h-6.3zM983.8 828.2h6.3v146.8h-6.3zM990.1 828.2h6.3v132.1h-6.3zM996.3 813.5h6.3v220.2h-6.3zM1002.6 1026.4h6.3v51.4h-6.3zM1008.8 1048.4h6.3v36.7h-6.3zM1015 938.3h6.3v132.1h-6.3zM1021.3 975h6.3v80.7h-6.3zM1027.5 938.3h6.3v110.1h-6.3zM1033.8 894.3h6.3v117.4h-6.3zM1040 908.9h6.3v139.5h-6.3zM1046.2 872.2h6.3v117.4h-6.3zM1052.5 842.9h6.3v110.1h-6.3zM1058.7 850.2h6.3v124.8h-6.3zM1065 798.8h6.3v124.8h-6.3zM1071.2 806.2h6.3v110.1h-6.3zM1077.4 820.9h6.3v102.8h-6.3zM1083.7 806.2h6.3v161.5h-6.3zM1089.9 842.9h6.3v139.5h-6.3zM1096.2 872.2h6.3v102.8h-6.3zM1102.4 850.2h6.3v117.4h-6.3zM1108.6 931h6.3v51.4h-6.3zM1114.9 813.5h6.3v139.5h-6.3zM1121.1 901.6h6.3v80.7h-6.3zM1127.4 806.2h6.3v124.8h-6.3zM1133.6 813.5h6.3v124.8h-6.3zM1139.8 791.5h6.3v110.1h-6.3zM1146.1 835.5h6.3v117.4h-6.3zM1152.3 842.9h6.3v132.1h-6.3zM1158.6 857.6h6.3v88.1h-6.3zM1164.8 931h6.3v95.4h-6.3zM1171 916.3h6.3v80.7h-6.3zM1177.3 894.3h6.3v95.4h-6.3zM1183.5 850.2h6.3v102.8h-6.3zM1189.8 850.2h6.3v95.4h-6.3zM1196 864.9h6.3v80.7h-6.3zM1202.2 850.2h6.3v117.4h-6.3zM1208.5 901.6h6.3v44h-6.3zM1214.7 842.9h6.3v110.1h-6.3zM1221 842.9h6.3v80.7h-6.3zM1227.2 806.2h6.3v95.4h-6.3zM1233.4 806.2h6.3v80.7h-6.3zM1239.7 872.2h6.3v80.7h-6.3zM1245.9 835.5h6.3v88.1h-6.3zM1252.2 806.2h6.3v139.5h-6.3zM1258.4 798.8h6.3v124.8h-6.3zM1264.6 806.2h6.3v110.1h-6.3zM1270.9 850.2h6.3v66.1h-6.3zM1277.1 857.6h6.3v66.1h-6.3zM1283.4 864.9h6.3v117.4h-6.3zM1289.6 857.6h6.3v102.8h-6.3zM1295.8 828.2h6.3v102.8h-6.3zM1302.1 769.5h6.3v110.1h-6.3zM1308.3 762.1h6.3v88.1h-6.3zM1314.5 798.8h6.3v110.1h-6.3zM1320.8 828.2h6.3v117.4h-6.3zM1327 820.9h6.3v132.1h-6.3zM1333.3 813.5h6.3v124.8h-6.3zM1339.5 806.2h6.3v139.5h-6.3zM1345.7 791.5h6.3v117.4h-6.3zM1352 820.9h6.3v110.1h-6.3zM1358.2 754.8h6.3v146.8h-6.3zM1364.5 747.5h6.3v132.1h-6.3zM1370.7 813.5h6.3v80.7h-6.3zM1376.9 798.8h6.3v124.8h-6.3zM1383.2 798.8h6.3v102.8h-6.3zM1389.4 798.8h6.3v132.1h-6.3zM1395.7 791.5h6.3v110.1h-6.3zM1401.9 798.8h6.3v146.8h-6.3zM1408.1 813.5h6.3v110.1h-6.3zM1414.4 842.9h6.3v117.4h-6.3zM1420.6 835.5h6.3v110.1h-6.3zM1426.9 850.2h6.3v102.8h-6.3zM1433.1 828.2h6.3v124.8h-6.3zM1439.3 835.5h6.3v102.8h-6.3zM1445.6 857.6h6.3v73.4h-6.3zM1451.8 828.2h6.3v102.8h-6.3zM1458.1 842.9h6.3v117.4h-6.3zM1464.3 806.2h6.3v154.1h-6.3zM1470.5 776.8h6.3v139.5h-6.3zM1476.8 769.5h6.3v124.8h-6.3zM1483 754.8h6.3v124.8h-6.3zM1489.3 791.5h6.3v124.8h-6.3zM1495.5 813.5h6.3v73.4h-6.3zM1501.7 820.9h6.3v66.1h-6.3zM1508 813.5h6.3v117.4h-6.3zM1514.2 820.9h6.3v124.8h-6.3zM1520.5 828.2h6.3v110.1h-6.3zM1526.7 813.5h6.3v102.8h-6.3zM1532.9 791.5h6.3v124.8h-6.3zM1539.2 828.2h6.3v132.1h-6.3zM1545.4 850.2h6.3v110.1h-6.3zM1551.7 850.2h6.3v139.5h-6.3zM1557.9 813.5h6.3v146.8h-6.3zM1564.1 791.5h6.3v132.1h-6.3zM1570.4 784.2h6.3v110.1h-6.3zM1576.6 791.5h6.3v102.8h-6.3zM1582.9 784.2h6.3v124.8h-6.3zM1589.1 769.5h6.3v139.5h-6.3zM1595.3 828.2h6.3v95.4h-6.3zM1601.6 842.9h6.3v117.4h-6.3zM1607.8 813.5h6.3v161.5h-6.3zM1614.1 776.8h6.3v161.5h-6.3zM1620.3 740.1h6.3v154.1h-6.3zM1626.5 791.5h6.3v102.8h-6.3zM1632.8 872.2h6.3v66.1h-6.3zM1639 857.6h6.3v110.1h-6.3zM1645.3 872.2h6.3v73.4h-6.3zM1651.5 864.9h6.3v132.1h-6.3zM1657.7 886.9h6.3v132.1h-6.3zM1664 835.5h6.3v161.5h-6.3zM1670.2 806.2h6.3v161.5h-6.3zM1676.5 798.8h6.3v154.1h-6.3zM1682.7 813.5h6.3v139.5h-6.3zM1688.9 842.9h6.3v110.1h-6.3zM1695.2 872.2h6.3v110.1h-6.3zM1701.4 916.3h6.3v102.8h-6.3zM1707.7 931h6.3v66.1h-6.3zM1713.9 864.9h6.3v154.1h-6.3zM1720.1 850.2h6.3v161.5h-6.3zM1726.4 894.3h6.3v95.4h-6.3zM1732.6 923.6h6.3v80.7h-6.3zM1738.9 931h6.3v110.1h-6.3zM1745.1 879.6h6.3v95.4h-6.3zM1751.3 842.9h6.3v80.7h-6.3zM1757.6 872.2h6.3v146.8h-6.3zM1763.8 982.3h6.3v58.7h-6.3zM1770.1 1033.7h6.3v66.1h-6.3zM1776.3 1048.4h6.3v44h-6.3zM1782.5 989.7h6.3v73.4h-6.3zM1788.8 960.3h6.3v110.1h-6.3zM1795 916.3h6.3v154.1h-6.3zM1801.3 916.3h6.3v110.1h-6.3zM1807.5 923.6h6.3v95.4h-6.3zM1813.7 879.6h6.3v124.8h-6.3zM1820 975h6.3v110.1h-6.3zM1826.2 945.6h6.3v117.4h-6.3zM1832.5 886.9h6.3v154.1h-6.3zM1838.7 923.6h6.3v80.7h-6.3zM1844.9 945.6h6.3v88.1h-6.3zM1851.2 982.3h6.3v95.4h-6.3zM1857.4 982.3h6.3v58.7h-6.3zM1863.7 1041.1h6.3v102.8h-6.3zM1869.9 1085.1h6.3v88.1h-6.3zM1876.1 1063.1h6.3v132.1h-6.3zM1882.4 938.3h6.3v161.5h-6.3zM1888.6 894.3h6.3v139.5h-6.3zM1894.9 901.6h6.3v124.8h-6.3zM1901.1 975h6.3v146.8h-6.3zM1907.3 1033.7h6.3v124.8h-6.3zM1913.6 953h6.3v146.8h-6.3zM1919.8 1026.4h6.3v88.1h-6.3zM1926.1 1019h6.3v102.8h-6.3zM1932.3 945.6h6.3v117.4h-6.3zM1938.5 916.3h6.3v117.4h-6.3zM1944.8 1004.4h6.3v95.4h-6.3zM1951 1041.1h6.3v102.8h-6.3zM1957.2 975h6.3v80.7h-6.3zM1963.5 989.7h6.3v66.1h-6.3zM1969.7 923.6h6.3v176.2h-6.3zM1976 938.3h6.3v102.8h-6.3zM1982.2 931h6.3v110.1h-6.3zM1988.4 908.9h6.3v58.7h-6.3zM1994.7 923.6h6.3v139.5h-6.3zM2000.9 1041.1h6.3v73.4h-6.3zM2007.2 1019h6.3v117.4h-6.3zM2013.4 1033.7h6.3v44h-6.3zM2019.6 1026.4h6.3v66.1h-6.3zM2025.9 1004.4h6.3v73.4h-6.3zM2032.1 1026.4h6.3v88.1h-6.3zM2038.4 1092.4h6.3v51.4h-6.3zM2044.6 1026.4h6.3v139.5h-6.3zM2050.8 960.3h6.3v117.4h-6.3zM2057.1 1070.4h6.3v88.1h-6.3zM2063.3 1026.4h6.3v88.1h-6.3zM2069.6 982.3h6.3v51.4h-6.3zM2075.8 982.3h6.3v132.1h-6.3zM2082 1063.1h6.3v80.7h-6.3zM2088.3 1048.4h6.3v95.4h-6.3zM2094.5 1129.1h6.3v80.7h-6.3zM2100.8 1114.5h6.3v102.8h-6.3zM2107 1085.1h6.3v102.8h-6.3zM2113.2 1011.7h6.3v139.5h-6.3zM2119.5 982.3h6.3v95.4h-6.3zM2125.7 989.7h6.3v146.8h-6.3zM2132 1099.8h6.3v80.7h-6.3zM2138.2 1107.1h6.3v102.8h-6.3zM2144.4 1077.8h6.3v51.4h-6.3zM2150.7 1033.7h6.3v80.7h-6.3zM2156.9 1048.4h6.3v80.7h-6.3zM2163.2 1077.8h6.3v66.1h-6.3zM2169.4 1077.8h6.3v80.7h-6.3zM2175.6 1063.1h6.3v102.8h-6.3zM2181.9 1055.7h6.3v88.1h-6.3zM2188.1 1092.4h6.3v58.7h-6.3zM2194.4 1048.4h6.3v110.1h-6.3zM2200.6 1011.7h6.3v66.1h-6.3zM2206.8 1004.4h6.3v80.7h-6.3zM2213.1 967.7h6.3v80.7h-6.3zM2219.3 960.3h6.3v88.1h-6.3zM2225.6 960.3h6.3v102.8h-6.3zM2231.8 953h6.3v110.1h-6.3zM2238 1063.1h6.3v51.4h-6.3zM2244.3 1019h6.3v66.1h-6.3zM2250.5 1033.7h6.3v139.5h-6.3zM2256.8 1158.5h6.3v36.7h-6.3zM2263 1136.5h6.3v66.1h-6.3zM2269.2 1041.1h6.3v124.8h-6.3zM2275.5 997h6.3v66.1h-6.3zM2281.7 982.3h6.3v88.1h-6.3zM2288 923.6h6.3v66.1h-6.3zM2294.2 967.7h6.3v66.1h-6.3zM2300.4 1019h6.3v88.1h-6.3zM2306.7 1004.4h6.3v110.1h-6.3zM2312.9 1114.5h6.3v88.1h-6.3zM2319.2 1114.5h6.3v88.1h-6.3zM2325.4 1099.8h6.3v73.4h-6.3zM2331.6 1099.8h0.1v102.8h-0.1z" fill="#aa0049"/>
<rect x="59" y="571.5" width="2.8" height="1027.5" fill="#ccc"/>
<rect x="2330.3" y="571.5" width="2.8" height="1027.5" fill="#ccc"/>
<text x="55" y="576.6" text-anchor="end" class="yl">120°</text>
<text x="2337" y="576.6" class="yl">120°</text>
<text x="55" y="723.4" text-anchor="end" class="yl">100°</text>
<text x="2337" y="723.4" class="yl">100°</text>
<text x="55" y="870.2" text-anchor="end" class="yl">80°</text>
<text x="2337" y="870.2" class="yl">80°</text>
<text x="55" y="1017" text-anchor="end" class="yl">60°</text>
<text x="2337" y="1017" class="yl">60°</text>
<text x="55" y="1163.8" text-anchor="end" class="yl">40°</text>
<text x="2337" y="1163.8" class="yl">40°</text>
<text x="55" y="1310.6" text-anchor="end" class="yl">20°</text>
<text x="2337" y="1310.6" class="yl">20°</text>
<text x="55" y="1457.4" text-anchor="end" class="yl">0°</text>
<text x="2337" y="1457.4" class="yl">0°</text>
<text x="55" y="1604.2" text-anchor="end" class="yl">-20°</text>
<text x="2337" y="1604.2" class="yl">-20°</text>
<text transform="translate(157.1 0) scale(0.945 1)" x="0" y="1638" text-anchor="middle" class="mo">January</text>
<text transform="translate(341.2 0) scale(0.945 1)" x="0" y="1638" text-anchor="middle" class="mo">February</text>
<text transform="translate(525.3 0) scale(0.945 1)" x="0" y="1638" text-anchor="middle" class="mo">March</text>
<text transform="translate(715.6 0) scale(0.945 1)" x="0" y="1638" text-anchor="middle" class="mo">April</text>
<text transform="translate(905.9 0) scale(0.945 1)" x="0" y="1638" text-anchor="middle" class="mo">May</text>
<text transform="translate(1096.2 0) scale(0.945 1)" x="0" y="1638" text-anchor="middle" class="mo">June</text>
<text transform="translate(1286.5 0) scale(0.945 1)" x="0" y="1638" text-anchor="middle" class="mo">July</text>
<text transform="translate(1480 0) scale(0.945 1)" x="0" y="1638" text-anchor="middle" class="mo">August</text>
<text transform="translate(1670.3 0) scale(0.945 1)" x="0" y="1638" text-anchor="middle" class="mo">September</text>
<text transform="translate(1860.6 0) scale(0.945 1)" x="0" y="1638" text-anchor="middle" class="mo">October</text>
<text transform="translate(2050.9 0) scale(0.945 1)" x="0" y="1638" text-anchor="middle" class="mo">November</text>
<text transform="translate(2238.1 0) scale(0.945 1)" x="0" y="1638" text-anchor="middle" class="mo">December</text>
<path d="M1482.2 738.3L1490.2 738.3L1486.2 755.3Z" fill="#444"/><rect x="1485.4" y="719.3" width="1.6" height="20" fill="#444"/><text x="1455.2" y="695.6" class="an">Record</text><text x="1455.2" y="713.5" class="an">high: 95</text>
<path d="M1619.5 723.6L1627.5 723.6L1623.5 740.6Z" fill="#444"/><rect x="1622.7" y="704.6" width="1.6" height="20" fill="#444"/><text x="1592.5" y="680.9" class="an">Record</text><text x="1592.5" y="698.8" class="an">high: 97</text>
<path d="M1987.6 892.4L1995.6 892.4L1991.6 909.4Z" fill="#444"/><rect x="1990.8" y="873.4" width="1.6" height="20" fill="#444"/><text x="1960.6" y="849.7" class="an">Record</text><text x="1960.6" y="867.6" class="an">high: 74</text>
<path d="M2224.7 943.8L2232.7 943.8L2228.7 960.8Z" fill="#444"/><rect x="2227.9" y="924.8" width="1.6" height="20" fill="#444"/><text x="2197.7" y="901.1" class="an">Tied record</text><text x="2197.7" y="919" class="an">high: 67</text>
<path d="M2219.3 943.8L2227.3 943.8L2223.3 960.8Z" fill="#444"/>
<path d="M2231.8 936.5L2239.8 936.5L2235.8 953.5Z" fill="#444"/>
<path d="M2287.1 907.1L2295.1 907.1L2291.1 924.1Z" fill="#444"/><rect x="2290.3" y="888.1" width="1.6" height="20" fill="#444"/><text x="2246.1" y="864.4" class="an">Record</text><text x="2246.1" y="882.3" class="an">high: 72</text>
<path d="M2294.2 951.2L2302.2 951.2L2298.2 968.2Z" fill="#444"/>
<path d="M371.5 1453.9L379.5 1453.9L375.5 1436.9Z" fill="#444"/><rect x="374.7" y="1452.9" width="1.6" height="19" fill="#444"/>
<text x="359" y="1491.4" class="an">Record</text><text x="359" y="1509.4" class="an">low: 2</text>
<text x="1285.6" y="1436.5" class="lg lg2">Bars represent range between</text>
<text x="1285.6" y="1454.4" class="lg lg2">the daily high and low.</text>
<rect x="1376.4" y="1479.7" width="14" height="105" fill="#ebebe4"/>
<rect x="1379.1" y="1500.9" width="8.4" height="56" fill="#c8b8ba"/>
<rect x="1381.2" y="1494" width="4.3" height="41.2" fill="#aa0049"/>
<path d="M1373.6 1500H1366.4V1556.6H1373.6" fill="none" stroke="#333" stroke-width="1.2"/>
<path d="M1383.3 1494.3H1397.2M1383.3 1534.6H1397.2" stroke="#333" stroke-width="1.2"/>
<text x="1362.2" y="1486.3" text-anchor="end" class="lg">Record High</text>
<text x="1362.2" y="1534.7" text-anchor="end" class="lg">Normal range</text>
<text x="1362.2" y="1591.6" text-anchor="end" class="lg">Record Low</text>
<text x="1404.6" y="1500.6" class="lg">Actual high</text>
<text x="1404.6" y="1541" class="lg">Actual low</text>
<path d="M60.4 1850.2L60.4 1850.2L66.8 1850.2L73.3 1840.9L79.7 1836.9L86.2 1836.6L92.6 1836.1L99.1 1836.1L105.5 1836.1L112 1835.2L118.4 1835.2L124.9 1835.2L131.3 1830.5L137.8 1830.5L144.2 1830.5L150.7 1830.5L157.1 1830.5L163.6 1830.5L170 1802.7L176.5 1802.7L182.9 1802.7L189.4 1802.7L195.8 1802.7L202.3 1802.7L208.7 1793.4L215.1 1793.4L221.6 1788L228 1782.5L234.5 1782.5L240.9 1782.2L247.4 1781.9L253.8 1781.9L253.8 1850.2ZM253.8 1850.2L253.8 1850.2L260.3 1836.2L266.8 1836.2L273.2 1836.2L279.7 1836.2L286.2 1836.2L292.7 1836.2L299.1 1835.8L305.6 1834.8L312.1 1834.8L318.5 1834.7L325 1834.7L331.5 1834.5L338 1834.5L344.4 1834.4L350.9 1834.3L357.4 1832.5L363.8 1832.5L370.3 1832.5L376.8 1832.5L383.3 1824.6L389.7 1823.7L396.2 1823.7L402.7 1823.7L409.1 1823.7L415.6 1823.7L422.1 1823.7L428.5 1823.7L428.5 1850.2ZM428.5 1850.2L428.5 1843.5L435 1843.5L441.4 1834.8L447.9 1831.1L454.3 1821.2L460.8 1821.2L467.2 1821.2L473.7 1821.2L480.1 1821.2L486.6 1815.4L493 1815.4L499.5 1815.4L505.9 1815.4L512.4 1804.5L518.8 1804.5L525.3 1804.5L531.7 1804.4L538.2 1804.4L544.6 1804.3L551.1 1799L557.5 1799L564 1799L570.4 1799L576.8 1799L583.3 1798.3L589.7 1793L596.2 1790.3L602.6 1790.3L609.1 1790.3L615.5 1790.3L622 1788.9L622 1850.2ZM622 1850.2L622 1850.2L628.4 1850.2L634.9 1849.7L641.3 1849.7L647.8 1849.7L654.3 1849.7L660.7 1847.5L667.2 1847.5L673.6 1847.5L680.1 1845.4L686.5 1845.4L693 1845.4L699.4 1845.4L705.9 1845.4L712.4 1845.4L718.8 1845.4L725.3 1844.5L731.7 1844.5L738.2 1844.5L744.6 1826.4L751.1 1823.7L757.5 1823.3L764 1823.3L770.4 1823.3L776.9 1823.3L783.4 1823.3L789.8 1823.3L796.3 1823.3L802.7 1823.3L809.2 1823.3L809.2 1850.2ZM809.2 1850.2L809.2 1850.2L815.6 1850.2L822.1 1850.2L828.5 1850.2L835 1850.2L841.4 1850.2L847.9 1850.2L854.3 1850.2L860.8 1850.2L867.2 1850.2L873.7 1850.2L880.1 1850.2L886.5 1850.2L893 1850.2L899.4 1850.2L905.9 1846.3L912.3 1846.3L918.8 1846.2L925.2 1846.2L931.7 1846.2L938.1 1846L944.6 1846L951 1846L957.5 1845.9L963.9 1845.9L970.4 1845.9L976.8 1845L983.3 1845L989.7 1845L996.2 1845L1002.6 1825.9L1002.6 1850.2ZM1002.6 1850.2L1002.6 1840.9L1009.1 1835.7L1015.5 1835.7L1022 1835.7L1028.4 1833.5L1034.9 1831.4L1041.3 1831.3L1047.8 1830.8L1054.2 1830.8L1060.7 1830.8L1067.2 1830.8L1073.6 1830.8L1080.1 1830.8L1086.5 1826.4L1093 1818.6L1099.4 1815.1L1105.9 1815.1L1112.3 1815.1L1118.8 1815.1L1125.3 1815.1L1131.7 1806.4L1138.2 1806.4L1144.6 1806.4L1151.1 1806.2L1157.5 1806.2L1164 1806.2L1170.4 1792.1L1176.9 1788.2L1183.3 1788L1189.8 1787.8L1189.8 1850.2ZM1189.8 1850.2L1189.8 1845L1196.3 1845L1202.7 1845L1209.1 1845L1215.6 1845L1222 1845L1228.5 1843.5L1234.9 1843.5L1241.4 1839.5L1247.8 1839.5L1254.3 1839.5L1260.7 1839.5L1267.2 1839.5L1273.6 1833.9L1280.1 1832.5L1286.5 1832.5L1293 1832.5L1299.4 1828.3L1305.9 1828.3L1312.3 1828.3L1318.8 1828.3L1325.2 1828.3L1331.7 1828.3L1338.1 1828.3L1344.6 1828.3L1351 1828.3L1357.4 1823.3L1363.9 1823.3L1370.3 1823.3L1376.8 1798.3L1383.2 1798.3L1383.2 1850.2ZM1383.2 1850.2L1383.2 1850.2L1389.7 1850.2L1396.1 1850.2L1402.6 1844.6L1409 1844.6L1415.5 1844.6L1421.9 1844.6L1428.4 1844.6L1434.8 1844.6L1441.3 1844.6L1447.7 1829.2L1454.2 1829.2L1460.6 1829.2L1467.1 1829.2L1473.5 1829.2L1480 1829.2L1486.4 1829.2L1492.9 1825.5L1499.3 1825.5L1505.7 1825.5L1512.2 1820.8L1518.6 1820.8L1525.1 1820.8L1531.5 1820.8L1538 1820.8L1544.4 1820.8L1550.9 1820.8L1557.3 1820.8L1563.8 1820.8L1570.2 1819.7L1576.7 1819.7L1576.7 1850.2ZM1576.7 1850.2L1576.7 1850.2L1583.1 1850.2L1589.6 1850.2L1596 1850.2L1602.5 1850.2L1608.9 1850.2L1615.4 1850.2L1621.9 1850.2L1628.3 1850.2L1634.8 1829.8L1641.2 1829.5L1647.7 1825.5L1654.1 1825.1L1660.6 1825.1L1667 1825.1L1673.5 1825.1L1680 1825.1L1686.4 1825.1L1692.9 1825.1L1699.3 1825.1L1705.8 1825.1L1712.2 1825.1L1718.7 1825.1L1725.1 1825.1L1731.6 1825.1L1738 1825.1L1744.5 1825.1L1751 1825L1757.4 1823.7L1763.9 1807.4L1763.9 1850.2ZM1763.9 1850.2L1763.9 1848.9L1770.3 1835.7L1776.8 1830.4L1783.2 1830.2L1789.7 1830.2L1796.1 1830.2L1802.6 1830.2L1809 1830.2L1815.4 1818.6L1821.9 1818.6L1828.3 1818.6L1834.8 1818.6L1841.2 1818.5L1847.7 1818.5L1854.1 1818.5L1860.6 1818.5L1867 1818.4L1873.5 1818.4L1879.9 1818.4L1886.4 1818.4L1892.8 1818.4L1899.3 1818.2L1905.7 1818.2L1912.2 1818.2L1918.6 1817.3L1925.1 1817.3L1931.5 1817.3L1938 1800.1L1944.4 1799.3L1950.9 1799.3L1957.3 1799.3L1957.3 1850.2ZM1957.3 1850.2L1957.3 1850.2L1963.8 1850.2L1970.2 1850.2L1976.7 1850.2L1983.1 1850.2L1989.6 1850.2L1996 1850.2L2002.5 1850.2L2008.9 1850.2L2015.4 1846.8L2021.8 1840.9L2028.3 1840.9L2034.8 1840.9L2041.2 1840.9L2047.7 1840.9L2054.1 1840.9L2060.6 1840.9L2067 1840.9L2073.5 1824.9L2079.9 1824.8L2086.4 1824.8L2092.9 1824.6L2099.3 1824.6L2105.8 1824.5L2112.2 1824.5L2118.7 1824.5L2125.1 1824.4L2131.6 1824.4L2138 1824.2L2144.5 1824.2L2144.5 1850.2ZM2144.5 1850.2L2144.5 1845.9L2150.7 1843.7L2157 1843.7L2163.2 1843.7L2169.5 1843.7L2175.7 1843.8L2181.9 1843.8L2188.2 1843.8L2194.4 1843.8L2200.7 1843.9L2206.9 1843.9L2213.1 1843.9L2219.4 1843.9L2225.6 1839.5L2231.9 1838.2L2238.1 1837.5L2244.3 1821.8L2250.6 1821.8L2256.8 1821.8L2263.1 1821.8L2269.3 1821.8L2275.5 1819.4L2281.8 1799L2288 1799L2294.3 1799L2300.5 1799L2306.7 1797.7L2313 1797.1L2319.2 1791.2L2325.5 1789.1L2331.7 1788.9L2331.7 1850.2Z" fill="#ebebe4"/>
<rect x="59" y="1823.3" width="2274" height="1.6" fill="#fff"/>
<rect x="59" y="1797.2" width="2274" height="1.6" fill="#fff"/>
<rect x="59" y="1771.1" width="2274" height="1.6" fill="#fff"/>
<path d="M60.4 1802.6H253.8M253.8 1809.9H428.5M428.5 1793.3H622M622 1791.5H809.2M809.2 1795.5H1002.6M1002.6 1792.6H1189.8M1189.8 1790.2H1383.2M1383.2 1792.3H1576.7M1576.7 1794.3H1763.9M1763.9 1792.8H1957.3M1957.3 1797.7H2144.5M2144.5 1798H2331.7" fill="none" stroke="#4fa8de" stroke-width="1.15"/>
<path d="M60.4 1850.2L66.8 1850.2L73.3 1840.9L79.7 1836.9L86.2 1836.6L92.6 1836.1L99.1 1836.1L105.5 1836.1L112 1835.2L118.4 1835.2L124.9 1835.2L131.3 1830.5L137.8 1830.5L144.2 1830.5L150.7 1830.5L157.1 1830.5L163.6 1830.5L170 1802.7L176.5 1802.7L182.9 1802.7L189.4 1802.7L195.8 1802.7L202.3 1802.7L208.7 1793.4L215.1 1793.4L221.6 1788L228 1782.5L234.5 1782.5L240.9 1782.2L247.4 1781.9L253.8 1781.9M253.8 1850.2L260.3 1836.2L266.8 1836.2L273.2 1836.2L279.7 1836.2L286.2 1836.2L292.7 1836.2L299.1 1835.8L305.6 1834.8L312.1 1834.8L318.5 1834.7L325 1834.7L331.5 1834.5L338 1834.5L344.4 1834.4L350.9 1834.3L357.4 1832.5L363.8 1832.5L370.3 1832.5L376.8 1832.5L383.3 1824.6L389.7 1823.7L396.2 1823.7L402.7 1823.7L409.1 1823.7L415.6 1823.7L422.1 1823.7L428.5 1823.7M428.5 1843.5L435 1843.5L441.4 1834.8L447.9 1831.1L454.3 1821.2L460.8 1821.2L467.2 1821.2L473.7 1821.2L480.1 1821.2L486.6 1815.4L493 1815.4L499.5 1815.4L505.9 1815.4L512.4 1804.5L518.8 1804.5L525.3 1804.5L531.7 1804.4L538.2 1804.4L544.6 1804.3L551.1 1799L557.5 1799L564 1799L570.4 1799L576.8 1799L583.3 1798.3L589.7 1793L596.2 1790.3L602.6 1790.3L609.1 1790.3L615.5 1790.3L622 1788.9M622 1850.2L628.4 1850.2L634.9 1849.7L641.3 1849.7L647.8 1849.7L654.3 1849.7L660.7 1847.5L667.2 1847.5L673.6 1847.5L680.1 1845.4L686.5 1845.4L693 1845.4L699.4 1845.4L705.9 1845.4L712.4 1845.4L718.8 1845.4L725.3 1844.5L731.7 1844.5L738.2 1844.5L744.6 1826.4L751.1 1823.7L757.5 1823.3L764 1823.3L770.4 1823.3L776.9 1823.3L783.4 1823.3L789.8 1823.3L796.3 1823.3L802.7 1823.3L809.2 1823.3M809.2 1850.2L815.6 1850.2L822.1 1850.2L828.5 1850.2L835 1850.2L841.4 1850.2L847.9 1850.2L854.3 1850.2L860.8 1850.2L867.2 1850.2L873.7 1850.2L880.1 1850.2L886.5 1850.2L893 1850.2L899.4 1850.2L905.9 1846.3L912.3 1846.3L918.8 1846.2L925.2 1846.2L931.7 1846.2L938.1 1846L944.6 1846L951 1846L957.5 1845.9L963.9 1845.9L970.4 1845.9L976.8 1845L983.3 1845L989.7 1845L996.2 1845L1002.6 1825.9M1002.6 1840.9L1009.1 1835.7L1015.5 1835.7L1022 1835.7L1028.4 1833.5L1034.9 1831.4L1041.3 1831.3L1047.8 1830.8L1054.2 1830.8L1060.7 1830.8L1067.2 1830.8L1073.6 1830.8L1080.1 1830.8L1086.5 1826.4L1093 1818.6L1099.4 1815.1L1105.9 1815.1L1112.3 1815.1L1118.8 1815.1L1125.3 1815.1L1131.7 1806.4L1138.2 1806.4L1144.6 1806.4L1151.1 1806.2L1157.5 1806.2L1164 1806.2L1170.4 1792.1L1176.9 1788.2L1183.3 1788L1189.8 1787.8M1189.8 1845L1196.3 1845L1202.7 1845L1209.1 1845L1215.6 1845L1222 1845L1228.5 1843.5L1234.9 1843.5L1241.4 1839.5L1247.8 1839.5L1254.3 1839.5L1260.7 1839.5L1267.2 1839.5L1273.6 1833.9L1280.1 1832.5L1286.5 1832.5L1293 1832.5L1299.4 1828.3L1305.9 1828.3L1312.3 1828.3L1318.8 1828.3L1325.2 1828.3L1331.7 1828.3L1338.1 1828.3L1344.6 1828.3L1351 1828.3L1357.4 1823.3L1363.9 1823.3L1370.3 1823.3L1376.8 1798.3L1383.2 1798.3M1383.2 1850.2L1389.7 1850.2L1396.1 1850.2L1402.6 1844.6L1409 1844.6L1415.5 1844.6L1421.9 1844.6L1428.4 1844.6L1434.8 1844.6L1441.3 1844.6L1447.7 1829.2L1454.2 1829.2L1460.6 1829.2L1467.1 1829.2L1473.5 1829.2L1480 1829.2L1486.4 1829.2L1492.9 1825.5L1499.3 1825.5L1505.7 1825.5L1512.2 1820.8L1518.6 1820.8L1525.1 1820.8L1531.5 1820.8L1538 1820.8L1544.4 1820.8L1550.9 1820.8L1557.3 1820.8L1563.8 1820.8L1570.2 1819.7L1576.7 1819.7M1576.7 1850.2L1583.1 1850.2L1589.6 1850.2L1596 1850.2L1602.5 1850.2L1608.9 1850.2L1615.4 1850.2L1621.9 1850.2L1628.3 1850.2L1634.8 1829.8L1641.2 1829.5L1647.7 1825.5L1654.1 1825.1L1660.6 1825.1L1667 1825.1L1673.5 1825.1L1680 1825.1L1686.4 1825.1L1692.9 1825.1L1699.3 1825.1L1705.8 1825.1L1712.2 1825.1L1718.7 1825.1L1725.1 1825.1L1731.6 1825.1L1738 1825.1L1744.5 1825.1L1751 1825L1757.4 1823.7L1763.9 1807.4M1763.9 1848.9L1770.3 1835.7L1776.8 1830.4L1783.2 1830.2L1789.7 1830.2L1796.1 1830.2L1802.6 1830.2L1809 1830.2L1815.4 1818.6L1821.9 1818.6L1828.3 1818.6L1834.8 1818.6L1841.2 1818.5L1847.7 1818.5L1854.1 1818.5L1860.6 1818.5L1867 1818.4L1873.5 1818.4L1879.9 1818.4L1886.4 1818.4L1892.8 1818.4L1899.3 1818.2L1905.7 1818.2L1912.2 1818.2L1918.6 1817.3L1925.1 1817.3L1931.5 1817.3L1938 1800.1L1944.4 1799.3L1950.9 1799.3L1957.3 1799.3M1957.3 1850.2L1963.8 1850.2L1970.2 1850.2L1976.7 1850.2L1983.1 1850.2L1989.6 1850.2L1996 1850.2L2002.5 1850.2L2008.9 1850.2L2015.4 1846.8L2021.8 1840.9L2028.3 1840.9L2034.8 1840.9L2041.2 1840.9L2047.7 1840.9L2054.1 1840.9L2060.6 1840.9L2067 1840.9L2073.5 1824.9L2079.9 1824.8L2086.4 1824.8L2092.9 1824.6L2099.3 1824.6L2105.8 1824.5L2112.2 1824.5L2118.7 1824.5L2125.1 1824.4L2131.6 1824.4L2138 1824.2L2144.5 1824.2M2144.5 1845.9L2150.7 1843.7L2157 1843.7L2163.2 1843.7L2169.5 1843.7L2175.7 1843.8L2181.9 1843.8L2188.2 1843.8L2194.4 1843.8L2200.7 1843.9L2206.9 1843.9L2213.1 1843.9L2219.4 1843.9L2225.6 1839.5L2231.9 1838.2L2238.1 1837.5L2244.3 1821.8L2250.6 1821.8L2256.8 1821.8L2263.1 1821.8L2269.3 1821.8L2275.5 1819.4L2281.8 1799L2288 1799L2294.3 1799L2300.5 1799L2306.7 1797.7L2313 1797.1L2319.2 1791.2L2325.5 1789.1L2331.7 1788.9" fill="none" stroke="#4fa8de" stroke-width="1.15" stroke-linejoin="round"/>
<rect x="253.2" y="1745.8" width="1.3" height="104.4" fill="#ccc"/>
<rect x="427.9" y="1745.8" width="1.3" height="104.4" fill="#ccc"/>
<rect x="621.3" y="1745.8" width="1.3" height="104.4" fill="#ccc"/>
<rect x="808.5" y="1745.8" width="1.3" height="104.4" fill="#ccc"/>
<rect x="1002" y="1745.8" width="1.3" height="104.4" fill="#ccc"/>
<rect x="1189.2" y="1745.8" width="1.3" height="104.4" fill="#ccc"/>
<rect x="1382.6" y="1745.8" width="1.3" height="104.4" fill="#ccc"/>
<rect x="1576" y="1745.8" width="1.3" height="104.4" fill="#ccc"/>
<rect x="1763.2" y="1745.8" width="1.3" height="104.4" fill="#ccc"/>
<rect x="1956.6" y="1745.8" width="1.3" height="104.4" fill="#ccc"/>
<rect x="2143.8" y="1745.8" width="1.3" height="104.4" fill="#ccc"/>
<rect x="59.1" y="1745.8" width="2.4" height="104.4" fill="#ccc"/>
<rect x="2330.7" y="1745.8" width="2.4" height="104.4" fill="#ccc"/>
<rect x="59.1" y="1823.3" width="2.4" height="1.6" fill="#fff"/>
<rect x="2330.7" y="1823.3" width="2.4" height="1.6" fill="#fff"/>
<rect x="59.1" y="1797.2" width="2.4" height="1.6" fill="#fff"/>
<rect x="2330.7" y="1797.2" width="2.4" height="1.6" fill="#fff"/>
<rect x="59.1" y="1771.1" width="2.4" height="1.6" fill="#fff"/>
<rect x="2330.7" y="1771.1" width="2.4" height="1.6" fill="#fff"/>
<text x="55" y="1749.9" text-anchor="end" class="yl">8</text><text x="55" y="1802.2" text-anchor="end" class="yl">4</text>
<text x="2337" y="1749.9" class="yl">8</text><text x="2337" y="1802.2" class="yl">4</text>
<text x="64.7" y="1799" class="pn">Normal: 3.65</text>
<text x="250.6" y="1778.6" text-anchor="end" class="pa">Actual: 5.23</text>
<text x="258" y="1806.1" class="pn">3.09</text>
<text x="426.8" y="1820.5" text-anchor="end" class="pa">2.03</text>
<text x="432.6" y="1789.4" class="pn">4.36</text>
<text x="610.7" y="1785.3" text-anchor="end" class="pa">4.7</text>
<text x="625.9" y="1788.1" class="pn">4.5</text>
<text x="807.2" y="1820" text-anchor="end" class="pa">2.06</text>
<text x="813.4" y="1791.2" class="pn">4.19</text>
<text x="1000.9" y="1822.4" text-anchor="end" class="pa">1.86</text>
<text x="1006.9" y="1789" class="pn">4.41</text>
<text x="1187.8" y="1783.8" text-anchor="end" class="pa">4.78</text>
<text x="1194.5" y="1786.6" class="pn">4.6</text>
<text x="1381.3" y="1794.4" text-anchor="end" class="pa">3.98</text>
<text x="1387.8" y="1789" class="pn">4.44</text>
<text x="1574.8" y="1816.3" text-anchor="end" class="pa">2.34</text>
<text x="1581.3" y="1790.9" class="pn">4.28</text>
<text x="1762.2" y="1804.2" text-anchor="end" class="pa">3.28</text>
<text x="1768.2" y="1789.4" class="pn">4.4</text>
<text x="1946.8" y="1795.9" text-anchor="end" class="pa">3.9</text>
<text x="1961.9" y="1794.6" class="pn">4.02</text>
<text x="2142.6" y="1821.3" text-anchor="end" class="pa">1.99</text>
<text x="2149.1" y="1794.6" class="pn">4</text>
<text x="2321.3" y="1785.3" text-anchor="end" class="pa">4.7</text>
<path d="M1632.3 1815.7H1640.6L1636.4 1830.5Z" fill="#444"/>
<!-- chart titles -->
<text x="88.3" y="593.6" font-size="21.8" font-weight="bold" fill="#333" textLength="126.2" lengthAdjust="spacingAndGlyphs">Temperature</text>
<text x="223" y="593.6" font-size="19" fill="#333" textLength="127.3" lengthAdjust="spacingAndGlyphs">Average: 57.1°</text>
<path d="M361.8 593.2H374L367.9 580.5Z" fill="#cc0000"/>
<text x="376.6" y="593.6" font-size="19" fill="#333" textLength="139.2" lengthAdjust="spacingAndGlyphs">2° above normal</text>
<rect x="89" y="612.4" width="115.5" height="30.3" rx="10" ry="10" fill="#fff" stroke="#ccc" stroke-width="1.3"/>
<path d="M146.4 612.4H99A10 10 0 0 0 89 622.4V632.7A10 10 0 0 0 99 642.7H146.4Z" fill="#ebebeb" stroke="#ccc" stroke-width="1.3"/>
<text x="118.3" y="634.3" font-size="18" fill="#333" text-anchor="middle">°F</text>
<text x="176.3" y="634.3" font-size="18" fill="#333" text-anchor="middle">°C</text>
<g><clipPath id="gc"><circle cx="2239.9" cy="613.4" r="55.9"/></clipPath>
<circle cx="2239.9" cy="613.4" r="55.9" fill="#fbfbfb" stroke="#ccc" stroke-width="1.8"/>
<g clip-path="url(#gc)">
<path d="M2228.0 587.0L2229.4 588.3L2232.0 588.3L2233.1 588.9L2234.3 589.4L2235.7 591.0L2238.3 591.2L2239.7 591.3L2241.2 591.3L2242.6 590.7L2242.8 587.6L2244.6 590.0L2246.1 589.2L2247.6 590.3L2248.4 591.4L2246.6 591.9L2246.7 593.8L2244.4 594.6L2244.1 597.5L2244.3 599.4L2245.7 601.1L2248.1 601.2L2250.0 602.0L2251.5 601.8L2252.1 603.7L2253.5 604.8L2254.3 604.6L2253.6 602.3L2253.9 599.6L2252.2 598.0L2252.2 596.7L2251.0 594.6L2252.8 594.0L2254.9 594.5L2256.0 596.1L2257.1 594.1L2260.5 596.4L2263.5 597.3L2265.4 598.4L2264.5 601.1L2261.4 603.0L2263.0 603.5L2263.4 604.9L2266.3 605.2L2264.5 608.5L2263.5 607.8L2262.7 607.3L2261.8 606.0L2261.2 606.1L2261.1 608.3L2260.8 608.9L2258.8 609.7L2258.2 610.8L2258.1 611.4L2256.8 612.2L2256.9 612.7L2254.4 614.2L2254.6 613.1L2254.0 611.0L2252.4 610.2L2252.1 609.9L2249.6 609.0L2248.9 609.4L2245.6 609.2L2245.2 608.9L2242.3 609.2L2239.3 609.2L2236.4 609.1L2233.5 608.8L2230.6 608.4L2227.8 607.8L2227.6 607.4L2226.9 606.0L2225.6 605.1L2225.7 603.1L2225.2 601.4L2225.7 600.8L2225.0 595.8L2223.8 596.2L2223.4 595.0L2223.0 594.3L2225.5 590.6ZM2266.1 602.9L2265.8 598.7L2268.5 600.2L2269.3 601.8L2268.0 602.5ZM2246.2 585.4L2247.6 585.9L2249.2 586.4L2251.0 587.0L2254.7 588.7L2256.0 592.4L2252.7 592.4L2250.3 592.8L2250.4 589.8L2248.1 589.4L2246.0 588.8L2244.0 586.5L2245.1 586.0ZM2236.1 586.6L2237.2 586.7L2238.3 586.8L2239.5 586.9L2240.4 590.4L2239.0 590.6L2237.6 590.7L2235.3 589.6ZM2242.9 583.7L2243.8 583.5L2244.7 583.3L2245.5 583.0L2245.7 581.7L2245.7 580.5L2245.4 579.3L2245.1 578.2L2244.3 578.1L2243.7 578.0L2243.4 578.4L2243.2 578.9L2242.8 579.3L2242.4 579.7L2241.9 580.1ZM2234.3 585.3L2235.3 585.8L2236.5 586.2L2234.0 587.5ZM2241.8 585.1L2242.8 585.0L2243.8 584.8L2244.7 584.6L2245.7 584.4L2244.9 583.7L2243.7 583.7L2242.6 583.6L2241.5 583.5ZM2236.7 584.1L2237.7 584.2L2238.6 584.3L2239.5 584.4L2239.3 585.5L2238.2 585.4L2237.2 585.2ZM2245.6 581.2L2245.6 580.1L2245.5 579.0L2245.3 578.0L2245.5 577.6L2245.7 577.2L2245.8 576.8L2245.9 576.5L2245.9 576.1L2245.9 575.7L2245.9 575.3L2247.1 575.3L2248.4 575.1L2249.6 574.8L2254.3 576.2L2258.4 577.9L2259.2 579.5L2259.8 581.2L2260.4 583.1L2260.9 585.1L2264.1 588.8L2262.2 589.4L2258.4 587.7L2254.8 585.1L2250.2 582.2L2249.0 582.4L2247.8 582.6ZM2228.8 624.3L2230.7 624.6L2233.7 626.1L2236.0 626.2L2236.0 625.8L2237.4 625.8L2239.1 628.0L2240.2 628.5L2240.7 627.8L2242.2 628.5L2243.7 630.8L2245.2 631.2L2245.0 634.3L2246.8 637.3L2248.2 637.9L2250.9 637.3L2251.6 634.9L2254.7 633.9L2254.5 636.6L2253.8 639.0L2257.9 638.2L2258.6 638.8L2258.5 642.1L2260.1 643.3L2262.3 642.3L2264.1 642.5L2264.3 643.2L2262.0 644.1L2259.3 644.1L2256.7 643.4L2254.9 641.3L2251.2 641.1L2248.8 639.6L2246.5 640.2L2242.2 639.1L2238.5 637.2L2238.1 634.9L2235.1 631.6L2232.3 627.6L2230.7 625.3L2230.7 627.0L2231.9 629.0L2234.1 632.9L2234.5 633.9L2233.6 633.5L2232.2 630.9L2230.5 628.4L2229.5 626.3ZM2264.3 643.2L2265.7 640.3L2268.5 637.9L2269.0 638.9L2271.7 636.8L2276.3 635.1L2278.0 635.7L2280.2 636.2L2283.5 634.3L2284.8 636.8L2288.0 635.1L2291.0 632.5L2291.4 633.2L2288.6 640.0L2285.9 645.1L2281.3 650.8L2278.3 654.0L2275.1 656.8L2271.3 659.6L2265.8 662.9L2262.9 664.3L2260.0 665.6L2261.3 665.0L2262.6 664.4L2265.9 662.0L2267.1 660.5L2268.1 658.9L2269.0 657.0L2264.9 656.9L2263.2 655.4L2261.2 653.7L2262.2 650.8L2262.2 648.8L2264.3 645.9ZM2256.3 633.1L2260.4 630.9L2264.9 631.7L2265.6 632.0L2262.8 633.2L2262.3 631.9L2258.8 632.1L2256.8 633.2ZM2265.7 633.3L2266.7 631.7L2270.3 631.1L2268.1 633.1ZM2262.7 580.2L2262.8 578.7L2262.6 577.2L2264.0 577.7L2264.3 579.0L2264.6 580.4ZM2219.0 583.5L2217.5 583.7L2217.6 581.6L2214.6 581.8L2213.2 581.0L2212.0 580.2L2210.3 578.4L2207.9 579.1L2205.2 578.4L2210.0 576.2L2213.0 576.5L2211.7 575.3L2212.2 573.9L2212.8 572.6L2213.5 571.3L2212.7 570.2L2212.2 569.1L2209.5 571.5L2206.4 572.1L2205.6 571.0L2208.7 568.6L2211.9 566.4L2215.2 564.6L2217.6 564.5L2220.2 564.7L2222.9 565.2L2225.7 566.0L2228.6 567.1L2227.0 567.6L2225.3 568.2L2225.0 569.2L2224.9 570.2L2223.6 571.2L2222.5 572.2L2221.4 573.4L2220.4 574.6L2220.6 575.8L2220.8 576.9L2220.3 578.3L2220.0 579.8L2219.4 581.6ZM2275.5 579.7L2272.1 577.5L2268.5 575.8L2271.3 576.2L2272.8 575.7L2274.3 576.8Z" fill="#d3d3d3"/>
<path d="M2226.5 608.0L2227.5 608.5L2227.8 607.8L2230.6 608.4L2233.5 608.8L2236.4 609.1L2239.3 609.2L2242.3 609.2L2245.2 608.9L2245.6 609.2L2248.9 609.4L2249.6 609.0L2252.1 609.9L2252.4 610.2L2254.0 611.0L2254.6 613.1L2254.4 614.2L2256.9 612.7L2256.8 612.2L2258.1 611.4L2258.2 610.8L2258.8 609.7L2260.8 608.9L2261.1 608.3L2261.2 606.1L2261.8 606.0L2262.7 607.3L2263.5 607.8L2262.2 609.7L2262.1 610.8L2262.9 611.4L2262.2 612.2L2260.8 613.5L2261.0 614.6L2260.2 615.2L2260.7 615.8L2260.5 617.3L2261.0 618.6L2260.6 619.6L2259.5 620.9L2258.1 623.3L2258.0 624.7L2259.7 627.7L2259.7 629.2L2258.5 628.8L2257.4 627.4L2257.1 625.8L2256.0 625.5L2255.0 626.2L2253.2 626.0L2251.6 626.4L2251.8 627.4L2250.5 627.5L2248.1 627.4L2247.1 628.0L2245.3 629.6L2245.2 631.2L2243.7 630.8L2242.2 628.5L2240.7 627.8L2240.2 628.5L2239.1 628.0L2237.4 625.8L2236.0 625.8L2236.0 626.2L2233.7 626.1L2230.7 624.6L2228.8 624.3L2227.9 622.7L2226.4 621.9L2225.7 619.7L2225.5 618.4L2225.0 616.3L2224.7 615.6L2225.2 614.1L2226.3 610.2ZM2228.0 587.0L2225.5 590.6L2223.0 594.3L2223.4 595.0L2223.8 596.2L2225.0 595.8L2225.7 600.8L2224.8 600.5L2224.2 597.9L2223.7 596.7L2223.1 595.0L2221.7 593.9L2220.5 592.7L2218.8 592.9L2219.3 591.6L2220.4 591.5L2218.0 592.1L2216.1 592.7L2214.0 593.1L2212.1 592.4L2213.5 592.3L2215.6 591.9L2216.5 591.4L2215.1 590.2L2216.1 589.3L2215.7 588.1L2216.4 587.0L2217.7 586.6L2218.9 587.3L2219.6 586.6L2218.6 585.3L2219.1 584.2L2220.6 584.6L2221.0 584.4L2221.4 583.0L2223.0 583.2L2225.4 583.3L2226.1 584.4L2227.2 586.1Z" fill="#999"/>
</g>
<circle cx="2260.8" cy="613.4" r="2.8" fill="#c4004f"/></g>
<text x="60.8" y="1705" font-size="21.8" font-weight="bold" fill="#333" textLength="126.5" lengthAdjust="spacingAndGlyphs">Precipitation</text>
<text x="196.2" y="1705" font-size="19" fill="#333" textLength="109.5" lengthAdjust="spacingAndGlyphs">Total: 40.97"</text>
<path d="M311 1692.5H324L317.5 1705Z" fill="#2b93c7"/>
<text x="325.5" y="1705" font-size="19" fill="#333">-9" less</text>
<text x="60.8" y="1880" font-size="19" fill="#333" textLength="1264" lengthAdjust="spacingAndGlyphs">Cumulative monthly precipitation, in inches, compared with normal. Precipitation totals are rainfall plus the liquid equivalent of any frozen precipitation.</text>
</svg>
</body></html>
